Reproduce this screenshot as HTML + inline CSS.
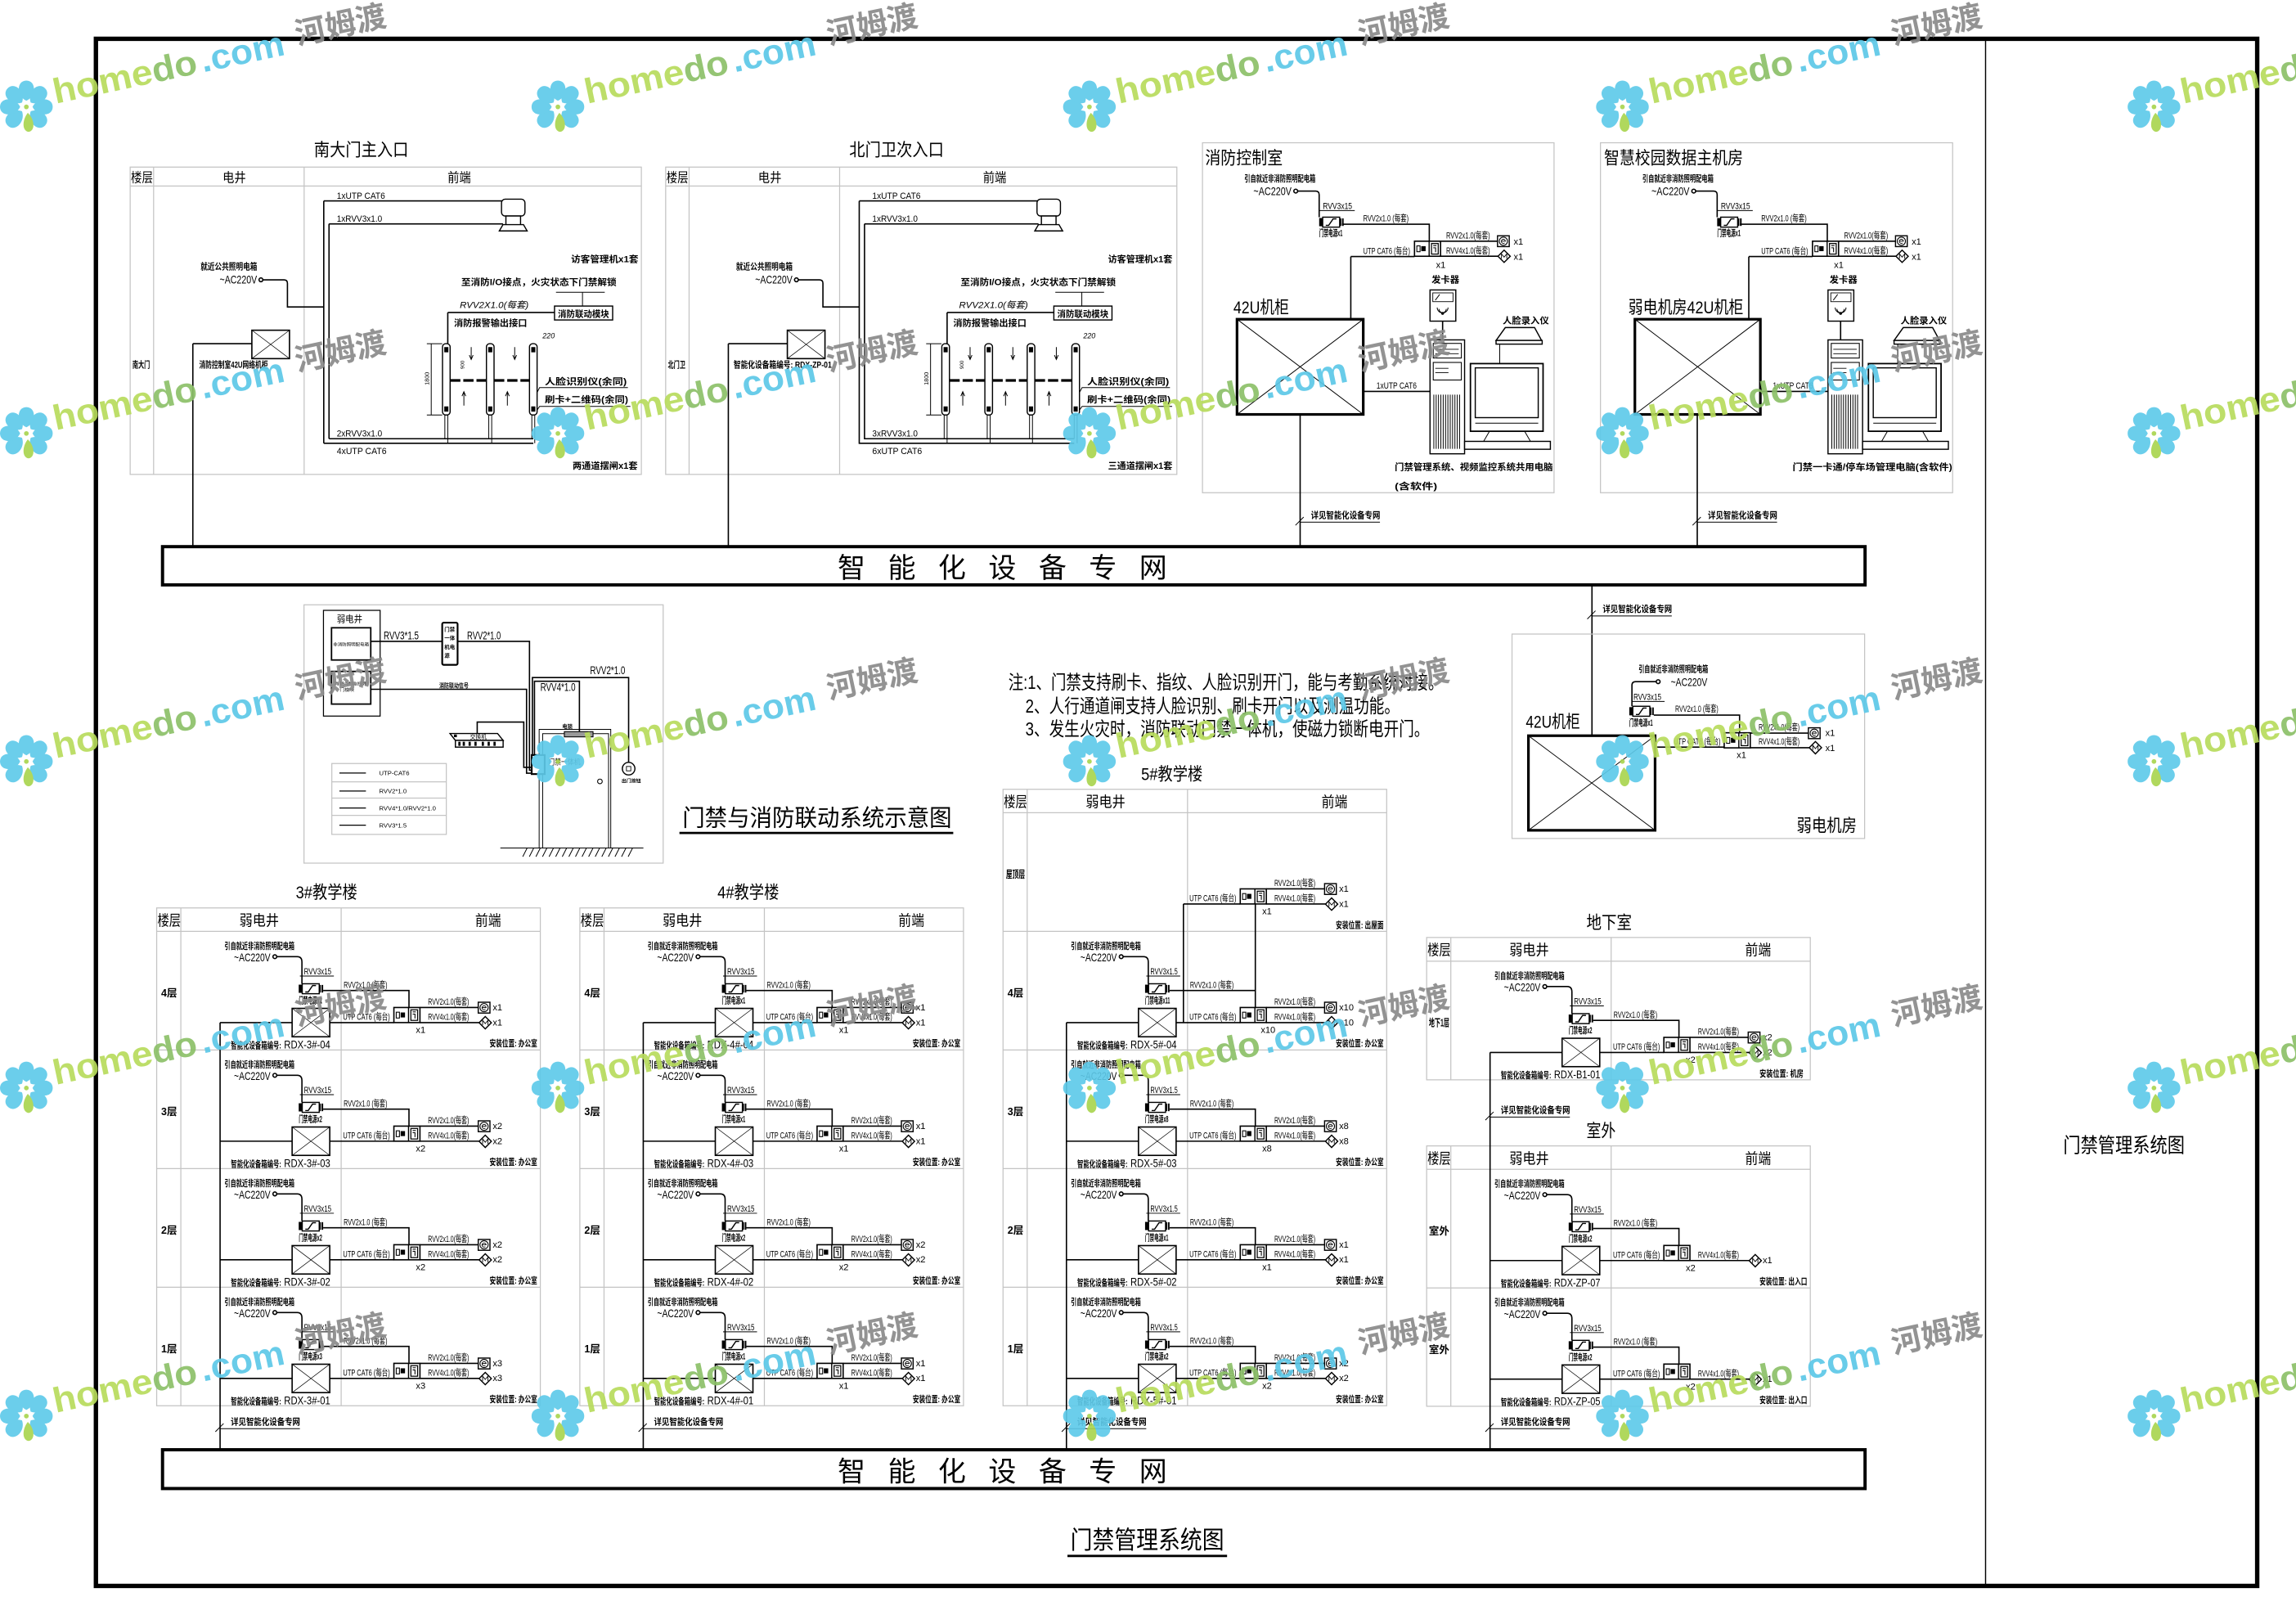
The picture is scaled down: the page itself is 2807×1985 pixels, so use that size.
<!DOCTYPE html>
<html><head><meta charset="utf-8">
<style>
html,body{margin:0;padding:0;background:#fff;overflow:hidden}
svg{display:block}
text{font-family:"Liberation Sans","Noto Sans CJK SC",sans-serif;fill:#000}
.w{stroke:#000;stroke-width:0.9;fill:none}
.t{stroke:#000;stroke-width:0.55;fill:none}
.g{stroke:#c4c4c4;stroke-width:0.7;fill:none}
.a{font-size:6px;font-weight:bold}
.n{font-size:6.2px}
.r{font-size:7.8px}
.fl{font-size:7px;font-weight:bold}
.h{font-size:10px}
.h9{font-size:9px}
.tt{font-size:12px}
.pw{fill:#fff;stroke:#000;stroke-width:0.8}
.wm1{font-size:24px;font-weight:bold;fill:#b8dc5c}
.wmd{font-size:24px;font-weight:bold;fill:#8cc068}
.wm2{font-size:24px;font-weight:bold;fill:#5cc8e8}
.wm3{font-size:21px;font-weight:bold;fill:#8a8a8a}
</style></head>
<body>
<svg width="2807" height="1985" viewBox="0 0 1568 1109" preserveAspectRatio="none" xmlns="http://www.w3.org/2000/svg">
<defs>
<g id="psu">
<rect x="0" y="0.6" width="2.4" height="5.6" fill="#000"/>
<rect x="2.4" y="0" width="11.6" height="6.8" fill="#fff" stroke="#000" stroke-width="0.8"/>
<path d="M4.5,5.6L6.5,5.6L9.5,1.2L11.8,1.2" stroke="#000" stroke-width="0.8" fill="none"/>
<rect x="14" y="0.8" width="1.1" height="5.2" fill="#000"/>
<rect x="15.6" y="0.8" width="1.1" height="5.2" fill="#000"/>
</g>
<g id="ctl">
<rect x="0" y="0" width="17.8" height="10.3" fill="#fff" stroke="#000" stroke-width="0.9"/>
<rect x="1.6" y="3.2" width="2.2" height="4" fill="none" stroke="#000" stroke-width="0.6"/>
<rect x="4.6" y="3.4" width="3" height="3.4" fill="#000"/>
<line x1="10" y1="0" x2="10" y2="10.3" stroke="#000" stroke-width="0.8"/>
<rect x="11.6" y="1.6" width="4.6" height="7.2" fill="none" stroke="#000" stroke-width="0.7"/>
<path d="M12.8,3H15M12.8,4.5H14.4V7.5" stroke="#000" stroke-width="0.6" fill="none"/>
</g>
<g id="btn">
<rect x="0" y="0" width="8" height="7.4" fill="#fff" stroke="#000" stroke-width="0.8"/>
<circle cx="4" cy="3.7" r="2.8" fill="none" stroke="#000" stroke-width="0.6"/>
<path d="M2.6,3.7H5.4A1.4,1.4 0 1 0 4.9,4.9" stroke="#000" stroke-width="0.5" fill="none"/>
</g>
<g id="lock">
<polygon points="-4.2,0 0,-4.2 4.2,0 0,4.2" fill="#fff" stroke="#000" stroke-width="0.8"/>
<path d="M-1.8,1.6V-1.6L0,0.6L1.8,-1.6V1.6" stroke="#000" stroke-width="0.5" fill="none"/>
</g>
<g id="cab">
<rect x="0" y="0" width="25.7" height="19.4" fill="#fff" stroke="#000" stroke-width="0.9"/>
<path d="M0,0L25.7,19.4M25.7,0L0,19.4" stroke="#000" stroke-width="0.4"/>
</g>
<path id="pt" d="M0,-4.2C-7,-7.5 -6.8,-18 0,-18C6.8,-18 7,-7.5 0,-4.2Z" fill="#5ecaea"/>
<g id="fl">
<use href="#pt"/>
<use href="#pt" transform="rotate(45)"/>
<use href="#pt" transform="rotate(90)"/>
<use href="#pt" transform="rotate(135)"/>
<use href="#pt" transform="rotate(225)"/>
<use href="#pt" transform="rotate(270)"/>
<use href="#pt" transform="rotate(315)"/>
<path d="M1,4C-3,9 -3,16.5 1.5,17C6,16.5 6,9 1,4Z" fill="#a9d54f"/>
<circle cx="0" cy="0" r="1.6" fill="#a9d54f"/>
</g>
</defs>

<rect x="0" y="0" width="1568" height="1109" fill="#fff"/>

<!-- Frame -->
<rect x="65.5" y="26.5" width="1476" height="1056.5" fill="none" stroke="#000" stroke-width="3"/>
<line x1="1356" y1="26.5" x2="1356" y2="1083" stroke="#000" stroke-width="0.8"/>
<text x="1409" y="787" font-size="14" textLength="83" lengthAdjust="spacingAndGlyphs">门禁管理系统图</text>

<!-- Top bar -->
<rect x="111" y="373.3" width="1162.7" height="26.1" fill="#fff" stroke="#000" stroke-width="2.2"/>
<text x="572" y="394.5" font-size="19" textLength="225" lengthAdjust="spacing">智能化设备专网</text>
<!-- Bottom bar -->
<rect x="111" y="990" width="1162.7" height="26.5" fill="#fff" stroke="#000" stroke-width="2.2"/>
<text x="572" y="1011.5" font-size="19" textLength="225" lengthAdjust="spacing">智能化设备专网</text>
<!-- bottom title -->
<text x="731" y="1057.5" font-size="17" textLength="105" lengthAdjust="spacingAndGlyphs">门禁管理系统图</text>
<path d="M729,1062.5H838" stroke="#000" stroke-width="1.6"/>

<!-- ===== 南大门主入口 ===== -->
<text class="tt" x="214.4" y="106.5" textLength="64.6" lengthAdjust="spacingAndGlyphs">南大门主入口</text>
<g>
<path class="g" d="M88.9,114.1H438V324H88.9Z M88.9,127H438 M104.9,114.1V324 M207.7,114.1V324"/>
<text class="h9" x="89.4" y="124.3" textLength="15" lengthAdjust="spacingAndGlyphs">楼层</text>
<text class="h9" x="152" y="124.3" textLength="16" lengthAdjust="spacingAndGlyphs">电井</text>
<text class="h9" x="305.6" y="124.3" textLength="16" lengthAdjust="spacingAndGlyphs">前端</text>
<path class="w" d="M221.1,137.2H343.5M224.7,152.9H343.5M221.1,137.2V302.7M224.7,152.9V299.6"/>
<rect x="342.5" y="136" width="16" height="11.5" rx="2.5" class="pw"/>
<rect x="345.5" y="147.5" width="10" height="6" class="pw"/>
<path d="M341,157.7L343.5,153.4H357.5L360,157.7Z" class="pw"/>
<text class="n" x="230" y="135.8" textLength="33" lengthAdjust="spacingAndGlyphs">1xUTP CAT6</text>
<text class="n" x="230" y="151.3" textLength="31" lengthAdjust="spacingAndGlyphs">1xRVV3x1.0</text>
<text class="a" x="137" y="184" textLength="38.6" lengthAdjust="spacingAndGlyphs">就近公共照明电箱</text>
<text class="r" x="150" y="193.6" textLength="25.5" lengthAdjust="spacingAndGlyphs">~AC220V</text>
<circle cx="178.2" cy="191.1" r="1.3" class="w"/>
<path class="w" d="M179.5,191.1H194Q196.3,191.1 196.3,193.5V209.6H221.1"/>
<use href="#cab" x="172" y="225.5"/>
<path class="w" d="M131.7,234.7H172M131.7,234.7V373.3"/>
<text class="a" x="390" y="179" textLength="46" lengthAdjust="spacingAndGlyphs">访客管理机x1套</text>
</g>
<path class="w" d="M221.1,302.7H364.2M224.7,299.6H364.2"/>
<text class="n" x="230" y="298" textLength="31" lengthAdjust="spacingAndGlyphs">2xRVV3x1.0</text>
<text class="n" x="230" y="310" textLength="34" lengthAdjust="spacingAndGlyphs">4xUTP CAT6</text>
<text class="a" x="391" y="320" textLength="44.5" lengthAdjust="spacingAndGlyphs">两通道摆闸x1套</text>
<text class="a" x="136" y="251" textLength="47" lengthAdjust="spacingAndGlyphs">消防控制室42U网络机柜</text>
<text class="a" x="90.4" y="251" textLength="12" lengthAdjust="spacingAndGlyphs">南大门</text>
<g>
<text class="a" x="315" y="194.6" textLength="106" lengthAdjust="spacingAndGlyphs">至消防I/O接点，火灾状态下门禁解锁</text>
<path class="t" d="M379.7,199.6H413M397.8,199.6V209"/>
<rect x="378.7" y="209" width="39.7" height="9.5" fill="none" stroke="#000" stroke-width="0.8"/>
<text class="a" x="381" y="216.6" textLength="35" lengthAdjust="spacingAndGlyphs">消防联动模块</text>
<text class="n" x="314" y="210.3" textLength="47" lengthAdjust="spacingAndGlyphs" font-style="italic">RVV2X1.0(每套)</text>
<path class="w" d="M305.8,213.4H378.7M305.8,213.4V234.7"/>
<text class="a" x="310" y="222.5" textLength="50" lengthAdjust="spacingAndGlyphs">消防报警输出接口</text>
<path class="t" d="M294.5,234.7V283.4M291.5,234.7H302M291.5,283.4H302"/>
<text x="0" y="0" font-size="4" transform="translate(293,263) rotate(-90)">1800</text>
<text x="0" y="0" font-size="3.5" transform="translate(317,252) rotate(-90)">900</text>
</g>
<rect x="302.2" y="234.7" width="5.2" height="48.7" rx="2.2" class="pw"/>
<rect x="332.2" y="234.7" width="5.2" height="48.7" rx="2.2" class="pw"/>
<rect x="361.6" y="234.7" width="5.2" height="48.7" rx="2.2" class="pw"/>
<path d="M303.4,237h2.8v3.6h-2.8zM303.4,277.5h2.8v3.6h-2.8zM333.4,237h2.8v3.6h-2.8zM333.4,277.5h2.8v3.6h-2.8zM362.8,237h2.8v3.6h-2.8zM362.8,277.5h2.8v3.6h-2.8z" fill="#000"/>
<path class="t" d="M303.8,283.4V299.6M305.8,283.4V302.7M333.8,283.4V299.6M335.8,283.4V302.7M363.2,283.4V299.6M365.2,283.4V302.7"/>
<path d="M307.4,259.8H332.2M337.4,259.8H361.6" stroke="#000" stroke-width="1.8" stroke-dasharray="7 2"/>
<path class="t" d="M316.8,277V268M315.5,270.5L316.8,267.5L318.1,270.5M321.8,237V245M320.5,242.5L321.8,245.5L323.1,242.5M346.5,277V268M345.2,270.5L346.5,267.5L347.8,270.5M351.5,237V245M350.2,242.5L351.5,245.5L352.8,242.5"/>
<text x="370.5" y="231" font-size="5" font-style="italic">220</text>
<text class="a" x="372" y="262.5" textLength="56" lengthAdjust="spacingAndGlyphs">人脸识别仪(余同)</text>
<text class="a" x="372" y="275" textLength="57" lengthAdjust="spacingAndGlyphs">刷卡+二维码(余同)</text>
<path class="t" d="M366.8,268L368.5,264.7H428.8M366.8,280L368.5,277.5H430.5"/>

<!-- ===== 北门卫次入口 ===== -->
<text class="tt" x="580" y="106.5" textLength="64.6" lengthAdjust="spacingAndGlyphs">北门卫次入口</text>
<g transform="translate(365.7,0)">
<path class="g" d="M88.9,114.1H438V324H88.9Z M88.9,127H438 M104.9,114.1V324 M207.7,114.1V324"/>
<text class="h9" x="89.4" y="124.3" textLength="15" lengthAdjust="spacingAndGlyphs">楼层</text>
<text class="h9" x="152" y="124.3" textLength="16" lengthAdjust="spacingAndGlyphs">电井</text>
<text class="h9" x="305.6" y="124.3" textLength="16" lengthAdjust="spacingAndGlyphs">前端</text>
<path class="w" d="M221.1,137.2H343.5M224.7,152.9H343.5M221.1,137.2V302.7H367.9M224.7,152.9V299.6H367.9"/>
<rect x="342.5" y="136" width="16" height="11.5" rx="2.5" class="pw"/>
<rect x="345.5" y="147.5" width="10" height="6" class="pw"/>
<path d="M341,157.7L343.5,153.4H357.5L360,157.7Z" class="pw"/>
<text class="n" x="230" y="135.8" textLength="33" lengthAdjust="spacingAndGlyphs">1xUTP CAT6</text>
<text class="n" x="230" y="151.3" textLength="31" lengthAdjust="spacingAndGlyphs">1xRVV3x1.0</text>
<text class="a" x="137" y="184" textLength="38.6" lengthAdjust="spacingAndGlyphs">就近公共照明电箱</text>
<text class="r" x="150" y="193.6" textLength="25.5" lengthAdjust="spacingAndGlyphs">~AC220V</text>
<circle cx="178.2" cy="191.1" r="1.3" class="w"/>
<path class="w" d="M179.5,191.1H194Q196.3,191.1 196.3,193.5V209.6H221.1"/>
<use href="#cab" x="172" y="225.5"/>
<path class="w" d="M131.7,234.7H172M131.7,234.7V373.3"/>
<text class="a" x="391" y="179" textLength="44" lengthAdjust="spacingAndGlyphs">访客管理机x1套</text>
<text class="n" x="230" y="298" textLength="31" lengthAdjust="spacingAndGlyphs">3xRVV3x1.0</text>
<text class="n" x="230" y="310" textLength="34" lengthAdjust="spacingAndGlyphs">6xUTP CAT6</text>
<text class="a" x="391" y="320" textLength="44" lengthAdjust="spacingAndGlyphs">三通道摆闸x1套</text>
<text class="a" x="135.3" y="251" textLength="67" lengthAdjust="spacingAndGlyphs">智能化设备箱编号: RDX-ZP-01</text>
<text class="a" x="90.4" y="251" textLength="12" lengthAdjust="spacingAndGlyphs">北门卫</text>
</g>
<g transform="translate(341,0)">
<text class="a" x="315" y="194.6" textLength="106" lengthAdjust="spacingAndGlyphs">至消防I/O接点，火灾状态下门禁解锁</text>
<path class="t" d="M379.7,199.6H413M397.8,199.6V209"/>
<rect x="378.7" y="209" width="39.7" height="9.5" fill="none" stroke="#000" stroke-width="0.8"/>
<text class="a" x="381" y="216.6" textLength="35" lengthAdjust="spacingAndGlyphs">消防联动模块</text>
<text class="n" x="314" y="210.3" textLength="47" lengthAdjust="spacingAndGlyphs" font-style="italic">RVV2X1.0(每套)</text>
<path class="w" d="M305.8,213.4H378.7M305.8,213.4V234.7"/>
<text class="a" x="310" y="222.5" textLength="50" lengthAdjust="spacingAndGlyphs">消防报警输出接口</text>
<path class="t" d="M294.5,234.7V283.4M291.5,234.7H302M291.5,283.4H302"/>
<text x="0" y="0" font-size="4" transform="translate(293,263) rotate(-90)">1800</text>
<text x="0" y="0" font-size="3.5" transform="translate(317,252) rotate(-90)">900</text>
<rect x="302.2" y="234.7" width="5.2" height="48.7" rx="2.2" class="pw"/>
<rect x="331.6" y="234.7" width="5.2" height="48.7" rx="2.2" class="pw"/>
<rect x="360.5" y="234.7" width="5.2" height="48.7" rx="2.2" class="pw"/>
<rect x="391" y="234.7" width="5.2" height="48.7" rx="2.2" class="pw"/>
<path d="M303.4,237h2.8v3.6h-2.8zM303.4,277.5h2.8v3.6h-2.8zM332.8,237h2.8v3.6h-2.8zM332.8,277.5h2.8v3.6h-2.8zM361.7,237h2.8v3.6h-2.8zM361.7,277.5h2.8v3.6h-2.8zM392.2,237h2.8v3.6h-2.8zM392.2,277.5h2.8v3.6h-2.8z" fill="#000"/>
<path class="t" d="M303.8,283.4V299.6M305.8,283.4V302.7M333.2,283.4V299.6M335.2,283.4V302.7M362.1,283.4V299.6M364.1,283.4V302.7M392.6,283.4V299.6M394.6,283.4V302.7"/>
<path d="M307.4,259.8H331.6M336.8,259.8H360.5M365.7,259.8H391" stroke="#000" stroke-width="1.8" stroke-dasharray="7 2"/>
<path class="t" d="M316.5,277V268M315.2,270.5L316.5,267.5L317.8,270.5M321.5,237V245M320.2,242.5L321.5,245.5L322.8,242.5M345.7,277V268M344.4,270.5L345.7,267.5L347,270.5M350.7,237V245M349.4,242.5L350.7,245.5L352,242.5M375.4,277V268M374.1,270.5L375.4,267.5L376.7,270.5M380.4,237V245M379.1,242.5L380.4,245.5L381.7,242.5"/>
<text x="398.8" y="231" font-size="5" font-style="italic">220</text>
<text class="a" x="401.4" y="262.5" textLength="56" lengthAdjust="spacingAndGlyphs">人脸识别仪(余同)</text>
<text class="a" x="401.4" y="275" textLength="57" lengthAdjust="spacingAndGlyphs">刷卡+二维码(余同)</text>
<path class="t" d="M396.2,268L398,264.7H458M396.2,280L398,277.5H459.5"/>
</g>

<!-- ===== 消防控制室 ===== -->
<g transform="translate(821.2,97.5)">
<path class="g" d="M0,0H240.1V239H0Z"/>
<text class="tt" x="1.8" y="14.5" textLength="53" lengthAdjust="spacingAndGlyphs">消防控制室</text>
<text class="a" x="28.6" y="26.5" textLength="48.6" lengthAdjust="spacingAndGlyphs">引自就近非消防照明配电箱</text>
<text class="r" x="34.8" y="35.8" textLength="26" lengthAdjust="spacingAndGlyphs">~AC220V</text>
<circle cx="63.7" cy="33" r="1.3" class="w"/>
<path class="w" d="M65,33H77.3Q79.7,33 79.7,35.5V50.8M95.2,55.6H154.9V67.2M101.3,77.7H144.8M101.3,77.7V120.5M162.6,67.2H201.5M162.6,77.5H201.8M109.8,169.8H155.4M164,121.8V134.6M66.7,185.5V275.8"/>
<text class="n" x="82.2" y="45.3" textLength="20" lengthAdjust="spacingAndGlyphs">RVV3x15</text>
<path class="t" d="M79.7,46.3H104"/>
<use href="#psu" x="79.7" y="50.8"/>
<text class="a" x="79.7" y="63.8" textLength="16" lengthAdjust="spacingAndGlyphs">门禁电源x1</text>
<text class="n" x="109.8" y="53.5" textLength="31" lengthAdjust="spacingAndGlyphs">RVV2x1.0 (每套)</text>
<use href="#ctl" x="144.8" y="67.2"/>
<text class="n" x="166.4" y="65.4" textLength="30" lengthAdjust="spacingAndGlyphs">RVV2x1.0(每套)</text>
<text class="n" x="166.4" y="75.8" textLength="30" lengthAdjust="spacingAndGlyphs">RVV4x1.0(每套)</text>
<use href="#btn" x="201.5" y="63.5"/>
<use href="#lock" x="206" y="77.5"/>
<text class="n" x="212.5" y="69.5">x1</text>
<text class="n" x="212.5" y="80">x1</text>
<text class="n" x="159.5" y="85.5">x1</text>
<text class="n" x="109.8" y="76" textLength="32" lengthAdjust="spacingAndGlyphs">UTP CAT6 (每台)</text>
<text class="a" x="156.4" y="95.5" font-size="7" textLength="19" lengthAdjust="spacingAndGlyphs">发卡器</text>
<rect x="155.4" y="100.5" width="17.6" height="21.3" class="pw"/>
<rect x="157.3" y="102.5" width="13.8" height="6" fill="none" stroke="#000" stroke-width="0.5"/>
<path class="t" d="M159,107.5L162,103.5M161.5,113.5a2.5,2.5 0 0 0 5,0M160.3,112.5a3.7,3.7 0 0 0 7.4,0"/>
<circle cx="164" cy="116.5" r="1" fill="#000"/>
<text class="tt" x="21.1" y="116.5" textLength="38" lengthAdjust="spacingAndGlyphs">42U机柜</text>
<rect x="23.6" y="120.5" width="86.2" height="65" fill="#fff" stroke="#000" stroke-width="1.8"/>
<path class="t" d="M23.6,120.5L109.8,185.5M109.8,120.5L23.6,185.5"/>
<text class="n" x="118.8" y="167.8" font-size="7" textLength="27.5" lengthAdjust="spacingAndGlyphs">1xUTP CAT6</text>
<rect x="155.4" y="134.6" width="23.6" height="77.8" class="pw"/>
<rect x="157.6" y="137" width="19.2" height="10" fill="none" stroke="#000" stroke-width="0.6"/>
<rect x="157.6" y="150" width="19.2" height="12" fill="none" stroke="#000" stroke-width="0.6"/>
<path d="M159,141H175M159,144H175M159,154H168M159,157H168" stroke="#000" stroke-width="0.5"/>
<path d="M158,172V209M159.6,172V209M161.2,172V209M162.8,172V209M164.4,172V209M166,172V209M167.6,172V209M169.2,172V209M170.8,172V209M172.4,172V209M174,172V209M175.6,172V209" stroke="#000" stroke-width="0.55"/>
<rect x="183" y="150.8" width="49.6" height="46.2" fill="#fff" stroke="#000" stroke-width="1"/>
<rect x="186.3" y="153.7" width="43" height="34" fill="none" stroke="#000" stroke-width="0.8"/>
<path class="t" d="M186.3,191.5H229.3M196,197L192,203.9M220,197L224,203.9"/>
<rect x="179" y="203.9" width="58.6" height="5.4" class="pw"/>
<path d="M206.8,126.2H226.8L231.6,135H200.5Z" class="pw"/>
<rect x="200.5" y="135" width="31.5" height="2.5" class="pw"/>
<path class="t" d="M203,137.5V150.8"/>
<text class="a" x="205" y="123.5" textLength="31.6" lengthAdjust="spacingAndGlyphs">人脸录入仪</text>
<text class="a" x="131.3" y="223.5" textLength="108" lengthAdjust="spacingAndGlyphs">门禁管理系统、视频监控系统共用电脑</text>
<text class="a" x="131.3" y="236.5" textLength="29" lengthAdjust="spacingAndGlyphs">(含软件)</text>
</g>

<!-- ===== 智慧校园数据主机房 ===== -->
<g transform="translate(1093,97.5)">
<path class="g" d="M0,0H240.5V239H0Z"/>
<text class="tt" x="2.4" y="14.5" textLength="95" lengthAdjust="spacingAndGlyphs">智慧校园数据主机房</text>
<text class="a" x="28.6" y="26.5" textLength="48.6" lengthAdjust="spacingAndGlyphs">引自就近非消防照明配电箱</text>
<text class="r" x="34.8" y="35.8" textLength="26" lengthAdjust="spacingAndGlyphs">~AC220V</text>
<circle cx="63.7" cy="33" r="1.3" class="w"/>
<path class="w" d="M65,33H77.3Q79.7,33 79.7,35.5V50.8M95.2,55.6H154.9V67.2M101.3,77.7H144.8M101.3,77.7V120.5M162.6,67.2H201.5M162.6,77.5H201.8M109.8,169.8H155.4M164,121.8V134.6M66.1,185.5V275.8"/>
<text class="n" x="82.2" y="45.3" textLength="20" lengthAdjust="spacingAndGlyphs">RVV3x15</text>
<path class="t" d="M79.7,46.3H104"/>
<use href="#psu" x="79.7" y="50.8"/>
<text class="a" x="79.7" y="63.8" textLength="16" lengthAdjust="spacingAndGlyphs">门禁电源x1</text>
<text class="n" x="109.8" y="53.5" textLength="31" lengthAdjust="spacingAndGlyphs">RVV2x1.0 (每套)</text>
<use href="#ctl" x="144.8" y="67.2"/>
<text class="n" x="166.4" y="65.4" textLength="30" lengthAdjust="spacingAndGlyphs">RVV2x1.0(每套)</text>
<text class="n" x="166.4" y="75.8" textLength="30" lengthAdjust="spacingAndGlyphs">RVV4x1.0(每套)</text>
<use href="#btn" x="201.5" y="63.5"/>
<use href="#lock" x="206" y="77.5"/>
<text class="n" x="212.5" y="69.5">x1</text>
<text class="n" x="212.5" y="80">x1</text>
<text class="n" x="159.5" y="85.5">x1</text>
<text class="n" x="109.8" y="76" textLength="32" lengthAdjust="spacingAndGlyphs">UTP CAT6 (每台)</text>
<text class="a" x="156.4" y="95.5" font-size="7" textLength="19" lengthAdjust="spacingAndGlyphs">发卡器</text>
<rect x="155.4" y="100.5" width="17.6" height="21.3" class="pw"/>
<rect x="157.3" y="102.5" width="13.8" height="6" fill="none" stroke="#000" stroke-width="0.5"/>
<path class="t" d="M159,107.5L162,103.5M161.5,113.5a2.5,2.5 0 0 0 5,0M160.3,112.5a3.7,3.7 0 0 0 7.4,0"/>
<circle cx="164" cy="116.5" r="1" fill="#000"/>
<text class="tt" x="19" y="116.5" textLength="78.6" lengthAdjust="spacingAndGlyphs">弱电机房42U机柜</text>
<rect x="23.5" y="120.5" width="85.7" height="65" fill="#fff" stroke="#000" stroke-width="1.8"/>
<path class="t" d="M23.5,120.5L109.2,185.5M109.2,120.5L23.5,185.5"/>
<text class="n" x="117.7" y="167.8" font-size="7" textLength="27.5" lengthAdjust="spacingAndGlyphs">1xUTP CAT6</text>
<rect x="155.4" y="134.6" width="23.6" height="77.8" class="pw"/>
<rect x="157.6" y="137" width="19.2" height="10" fill="none" stroke="#000" stroke-width="0.6"/>
<rect x="157.6" y="150" width="19.2" height="12" fill="none" stroke="#000" stroke-width="0.6"/>
<path d="M159,141H175M159,144H175M159,154H168M159,157H168" stroke="#000" stroke-width="0.5"/>
<path d="M158,172V209M159.6,172V209M161.2,172V209M162.8,172V209M164.4,172V209M166,172V209M167.6,172V209M169.2,172V209M170.8,172V209M172.4,172V209M174,172V209M175.6,172V209" stroke="#000" stroke-width="0.55"/>
<rect x="183" y="150.8" width="49.6" height="46.2" fill="#fff" stroke="#000" stroke-width="1"/>
<rect x="186.3" y="153.7" width="43" height="34" fill="none" stroke="#000" stroke-width="0.8"/>
<path class="t" d="M186.3,191.5H229.3M196,197L192,203.9M220,197L224,203.9"/>
<rect x="179" y="203.9" width="58.6" height="5.4" class="pw"/>
<path d="M206.8,126.2H226.8L231.6,135H200.5Z" class="pw"/>
<rect x="200.5" y="135" width="31.5" height="2.5" class="pw"/>
<path class="t" d="M203,137.5V150.8"/>
<text class="a" x="205" y="123.5" textLength="31.6" lengthAdjust="spacingAndGlyphs">人脸录入仪</text>
<text class="a" x="131.2" y="223.5" textLength="109" lengthAdjust="spacingAndGlyphs">门禁一卡通/停车场管理电脑(含软件)</text>
</g>

<!-- 详见 labels (top) -->
<text class="a" x="895.2" y="354" textLength="47.4" lengthAdjust="spacingAndGlyphs">详见智能化设备专网</text>
<path class="t" d="M887.9,356.6H942.4M884.7,358.7L890.3,353.1"/>
<text class="a" x="1166.4" y="354" textLength="47.4" lengthAdjust="spacingAndGlyphs">详见智能化设备专网</text>
<path class="t" d="M1159.1,356.6H1213.6M1155.9,358.7L1161.5,353.1"/>

<!-- ===== 门禁与消防联动系统示意图 ===== -->
<path class="g" d="M207.6,413H452.9V589.4H207.6Z"/>
<rect x="220.9" y="416.8" width="38.7" height="72.2" fill="none" stroke="#000" stroke-width="0.7"/>
<text x="230" y="424.8" font-size="6.5" fill="#444" textLength="17.5" lengthAdjust="spacingAndGlyphs">弱电井</text>
<rect x="226.4" y="428.7" width="26.8" height="22" fill="none" stroke="#000" stroke-width="1"/>
<text x="227.5" y="441" font-size="3" fill="#666" textLength="24.5" lengthAdjust="spacingAndGlyphs">非消防照明配电箱</text>
<rect x="226.4" y="458.5" width="26.8" height="22.3" fill="none" stroke="#000" stroke-width="1"/>
<text x="227.5" y="468" font-size="3" fill="#666" textLength="24.5" lengthAdjust="spacingAndGlyphs">消防联动控制</text>
<text x="232" y="472" font-size="3" fill="#666" textLength="10" lengthAdjust="spacingAndGlyphs">门模块</text>
<path class="w" d="M253.2,438H302M312.5,438H361.6V526H363.1M253.2,470.7H359.6V528H363.1M325.9,500.9V493.1H357.7V524H363.1M395.7,499.6V465.2H365V515.6M429.3,520.6V462.7H363.6V515.6"/>
<text x="262" y="436.6" font-size="7.8" textLength="24" lengthAdjust="spacingAndGlyphs">RVV3*1.5</text>
<text x="319" y="436.6" font-size="7.8" textLength="23" lengthAdjust="spacingAndGlyphs">RVV2*1.0</text>
<rect x="302" y="425.2" width="10.5" height="28.8" rx="1" fill="#fff" stroke="#000" stroke-width="1.2"/>
<text x="303.5" y="431" font-size="3.6" font-weight="bold">门禁</text>
<text x="303.5" y="437" font-size="3.6" font-weight="bold">一体</text>
<text x="303.5" y="443" font-size="3.6" font-weight="bold">机电</text>
<text x="303.5" y="449" font-size="3.6" font-weight="bold">源</text>
<text x="300" y="469.5" font-size="4" font-weight="bold" textLength="20" lengthAdjust="spacingAndGlyphs">消防联动信号</text>
<path d="M307.3,500.9H339.8L343.6,505.6H311Z" class="pw"/>
<rect x="311" y="505.6" width="32.6" height="4.6" class="pw"/>
<path d="M313,506.5h1.5v2.8h-1.5zM316,506.5h1.5v2.8h-1.5zM320,506.5h1.5v2.8h-1.5zM324,506.5h1.5v2.8h-1.5zM329,506.5h1.5v2.8h-1.5zM333,506.5h1.5v2.8h-1.5zM337,506.5h1.5v2.8h-1.5z" fill="#000"/>
<rect x="310" y="501.6" width="2" height="1.8" fill="#000"/>
<text x="321" y="504.6" font-size="3.8" fill="#444">交换机</text>
<path class="t" d="M368.2,579.1V498.1H417.1V579.1M370.6,579.1V501H415.6V579.1"/>
<rect x="385.4" y="499.6" width="19.6" height="3.6" fill="#999" stroke="#000" stroke-width="0.6"/>
<text x="384" y="497.2" font-size="3.5" font-weight="bold">电锁</text>
<text x="369" y="471.8" font-size="7.8" textLength="24" lengthAdjust="spacingAndGlyphs">RVV4*1.0</text>
<text x="403" y="460.5" font-size="7.8" textLength="24" lengthAdjust="spacingAndGlyphs">RVV2*1.0</text>
<circle cx="429.3" cy="524.9" r="4.3" class="pw"/>
<rect x="427.8" y="523.4" width="3" height="3" fill="none" stroke="#000" stroke-width="0.5"/>
<text x="424.5" y="534.5" font-size="3.3" font-weight="bold">出门按钮</text>
<rect x="363.1" y="515.6" width="8.9" height="13" fill="#fff" stroke="#000" stroke-width="1.2"/>
<text x="374.4" y="522" font-size="5" fill="#444" textLength="22" lengthAdjust="spacingAndGlyphs">门禁一体机</text>
<circle cx="409.7" cy="533.6" r="1.6" fill="none" stroke="#000" stroke-width="0.6"/>
<path class="t" d="M341.7,579.1H439.4M360,579.1L357,585M364.5,579.1L361.5,585M369,579.1L366,585M373.5,579.1L370.5,585M378,579.1L375,585M382.5,579.1L379.5,585M387,579.1L384,585M391.5,579.1L388.5,585M396,579.1L393,585M400.5,579.1L397.5,585M405,579.1L402,585M409.5,579.1L406.5,585M414,579.1L411,585M418.5,579.1L415.5,585M423,579.1L420,585M427.5,579.1L424.5,585M432,579.1L429,585"/>
<path class="g" d="M226.6,521.4H304.8V569.8H226.6ZM226.6,533.9H304.8M226.6,545H304.8M226.6,556.8H304.8"/>
<path d="M231.8,527.9H249.9M231.8,540.2H249.9M231.8,551.8H249.9M231.8,563.5H249.9" stroke="#000" stroke-width="0.7"/>
<text x="258.9" y="529.4" font-size="4.3" fill="#555">UTP-CAT6</text>
<text x="258.9" y="541.7" font-size="4.3" fill="#555">RVV2*1.0</text>
<text x="258.9" y="553.3" font-size="4.3" fill="#555">RVV4*1.0/RVV2*1.0</text>
<text x="258.9" y="565" font-size="4.3" fill="#555">RVV3*1.5</text>
<text x="466" y="564" font-size="16" textLength="184" lengthAdjust="spacingAndGlyphs">门禁与消防联动系统示意图</text>
<path d="M464,568.8H651" stroke="#000" stroke-width="1.5"/>

<!-- Notes -->
<text x="688.6" y="470.5" font-size="13" textLength="297" lengthAdjust="spacingAndGlyphs">注:1、门禁支持刷卡、指纹、人脸识别开门，能与考勤系统对接。</text>
<text x="700.3" y="486.5" font-size="13" textLength="255.5" lengthAdjust="spacingAndGlyphs">2、人行通道闸支持人脸识别、刷卡开门以及测温功能。</text>
<text x="700.3" y="502.3" font-size="13" textLength="275.8" lengthAdjust="spacingAndGlyphs">3、发生火灾时，消防联动门禁一体机，使磁力锁断电开门。</text>

<!-- ===== 弱电机房 ===== -->
<path class="w" d="M1087.2,399.4V502.4"/>
<text class="a" x="1094.5" y="418" textLength="47.4" lengthAdjust="spacingAndGlyphs">详见智能化设备专网</text>
<path class="t" d="M1087.2,420.6H1141.7M1084,422.7L1089.6,417.1"/>
<path class="g" d="M1032.6,433H1273.4V572.6H1032.6Z"/>
<rect x="1043.8" y="502.4" width="86.5" height="64.6" fill="#fff" stroke="#000" stroke-width="1.8"/>
<path class="t" d="M1043.8,502.4L1130.3,567M1130.3,502.4L1043.8,567"/>
<text class="tt" x="1042" y="497" textLength="37" lengthAdjust="spacingAndGlyphs">42U机柜</text>
<text class="tt" x="1227" y="568" textLength="41" lengthAdjust="spacingAndGlyphs">弱电机房</text>
<text class="a" x="1119" y="459" textLength="47.5" lengthAdjust="spacingAndGlyphs">引自就近非消防照明配电箱</text>
<circle cx="1132.4" cy="465.5" r="1.3" class="w"/>
<text class="r" x="1141" y="468.6" textLength="25" lengthAdjust="spacingAndGlyphs">~AC220V</text>
<path class="w" d="M1131.1,465.5H1117Q1114.5,465.5 1114.5,468V482.3M1129.4,488.3H1188V500.6M1130.3,510.2H1177.5M1195.3,500.6H1235M1195.3,510.6H1235.6"/>
<text class="n" x="1115.5" y="478" textLength="19" lengthAdjust="spacingAndGlyphs">RVV3x15</text>
<path class="t" d="M1114.5,479H1136.8"/>
<use href="#psu" x="1112.7" y="482.3"/>
<text class="a" x="1112.7" y="495.5" textLength="16" lengthAdjust="spacingAndGlyphs">门禁电源x1</text>
<text class="n" x="1144" y="486" textLength="29.5" lengthAdjust="spacingAndGlyphs">RVV2x1.0 (每套)</text>
<text class="n" x="1143" y="508.5" textLength="32" lengthAdjust="spacingAndGlyphs">UTP CAT6 (每台)</text>
<use href="#ctl" x="1177.5" y="500.4"/>
<text class="n" x="1186" y="517.5">x1</text>
<text class="n" x="1201" y="498.5" textLength="28" lengthAdjust="spacingAndGlyphs">RVV2x1.0(每套)</text>
<text class="n" x="1201" y="508.5" textLength="28" lengthAdjust="spacingAndGlyphs">RVV4x1.0(每套)</text>
<use href="#btn" x="1235" y="497"/>
<use href="#lock" x="1239.8" y="510.6"/>
<text class="n" x="1246.6" y="502.5">x1</text>
<text class="n" x="1246.6" y="513">x1</text>

<!-- ===== Building tables ===== -->
<text class="tt" x="202" y="613.5" font-size="11.5" textLength="42" lengthAdjust="spacingAndGlyphs">3#教学楼</text>
<g transform="translate(107,620)">
<path class="g" d="M0,0H262V340H0ZM0,16H262M0,97H262M0,178H262M0,259H262M16.5,0V340M126,0V340"/>
<text class="h" x="0.5" y="12.2" textLength="16" lengthAdjust="spacingAndGlyphs">楼层</text>
<text class="h" x="56.5" y="12.2" textLength="27" lengthAdjust="spacingAndGlyphs">弱电井</text>
<text class="h" x="217.5" y="12.2" textLength="17.7" lengthAdjust="spacingAndGlyphs">前端</text>
</g>
<text class="tt" x="490" y="613.5" font-size="11.5" textLength="42" lengthAdjust="spacingAndGlyphs">4#教学楼</text>
<g transform="translate(396,620)">
<path class="g" d="M0,0H262V340H0ZM0,16H262M0,97H262M0,178H262M0,259H262M16.5,0V340M126,0V340"/>
<text class="h" x="0.5" y="12.2" textLength="16" lengthAdjust="spacingAndGlyphs">楼层</text>
<text class="h" x="56.5" y="12.2" textLength="27" lengthAdjust="spacingAndGlyphs">弱电井</text>
<text class="h" x="217.5" y="12.2" textLength="17.7" lengthAdjust="spacingAndGlyphs">前端</text>
</g>
<text class="tt" x="779.3" y="532.6" font-size="11.5" textLength="42" lengthAdjust="spacingAndGlyphs">5#教学楼</text>
<g transform="translate(685,539)">
<path class="g" d="M0,0H262V421H0ZM0,16H262M0,97H262M0,178H262M0,259H262M0,340H262M16.5,0V421M126,0V421"/>
<text class="h" x="0.5" y="12.2" textLength="16" lengthAdjust="spacingAndGlyphs">楼层</text>
<text class="h" x="56.5" y="12.2" textLength="27" lengthAdjust="spacingAndGlyphs">弱电井</text>
<text class="h" x="217.5" y="12.2" textLength="17.7" lengthAdjust="spacingAndGlyphs">前端</text>
</g>
<text class="tt" x="1083.4" y="634" textLength="31" lengthAdjust="spacingAndGlyphs">地下室</text>
<g transform="translate(974.3,640.2)">
<path class="g" d="M0,0H262V97.2H0ZM0,16.2H262M16.5,0V97.2M126,0V97.2"/>
<text class="h" x="0.5" y="12.2" textLength="16" lengthAdjust="spacingAndGlyphs">楼层</text>
<text class="h" x="56.5" y="12.2" textLength="27" lengthAdjust="spacingAndGlyphs">弱电井</text>
<text class="h" x="217.5" y="12.2" textLength="17.7" lengthAdjust="spacingAndGlyphs">前端</text>
</g>
<text class="tt" x="1083.4" y="776.2" textLength="20" lengthAdjust="spacingAndGlyphs">室外</text>
<g transform="translate(974.3,782.5)">
<path class="g" d="M0,0H262V177.8H0ZM0,16H262M0,97H262M16.5,0V177.8M126,0V177.8"/>
<text class="h" x="0.5" y="12.2" textLength="16" lengthAdjust="spacingAndGlyphs">楼层</text>
<text class="h" x="56.5" y="12.2" textLength="27" lengthAdjust="spacingAndGlyphs">弱电井</text>
<text class="h" x="217.5" y="12.2" textLength="17.7" lengthAdjust="spacingAndGlyphs">前端</text>
</g>

<!-- Trunks -->
<path class="w" d="M150.3,698.3V990M439.3,698.3V990M728.3,698.3V990M1017.6,718.7V990M808.2,617.3V698.3M857.3,617.3V676.4"/>
<text class="a" x="157.6" y="973" textLength="47.4" lengthAdjust="spacingAndGlyphs">详见智能化设备专网</text>
<path class="t" d="M150.3,975.6H204.8M147.1,977.7L152.7,972.1"/>
<text class="a" x="446.6" y="973" textLength="47.4" lengthAdjust="spacingAndGlyphs">详见智能化设备专网</text>
<path class="t" d="M439.3,975.6H493.8M436.1,977.7L441.7,972.1"/>
<text class="a" x="735.6" y="973" textLength="47.4" lengthAdjust="spacingAndGlyphs">详见智能化设备专网</text>
<path class="t" d="M728.3,975.6H782.8M725.1,977.7L730.7,972.1"/>
<text class="a" x="1024.9" y="973" textLength="47.4" lengthAdjust="spacingAndGlyphs">详见智能化设备专网</text>
<path class="t" d="M1017.6,975.6H1072.1M1014.4,977.7L1020,972.1"/>
<text class="a" x="1024.9" y="760.2" textLength="47.4" lengthAdjust="spacingAndGlyphs">详见智能化设备专网</text>
<path class="t" d="M1017.6,762.8H1072.1M1014.4,764.9L1020,759.3"/>

<!-- ===== CELLS ===== -->
<g transform="translate(107,636)">
<text class="fl" x="8.5" y="44.6" text-anchor="middle">4层</text>
<text class="a" x="46.3" y="12" textLength="47.8" lengthAdjust="spacingAndGlyphs">引自就近非消防照明配电箱</text>
<text class="r" x="52.8" y="20.6" textLength="24.9" lengthAdjust="spacingAndGlyphs">~AC220V</text>
<circle cx="80.7" cy="17.3" r="1.3" class="w"/>
<path class="w" d="M82,17.3H96Q99.2,17.3 99.2,21V35.8M113.7,40.4H172.3V52M43.3,62.3H92.5M118.2,62.3H162M179.8,52H219.6M179.8,62.3H220.2"/>
<text class="n" x="100.6" y="29.4" textLength="18.7" lengthAdjust="spacingAndGlyphs">RVV3x15</text>
<path class="t" d="M97.8,30.5H121"/>
<use href="#psu" x="97" y="35.8"/>
<text class="a" x="97" y="49.3" textLength="16" lengthAdjust="spacingAndGlyphs">门禁电源x1</text>
<text class="n" x="127.7" y="38.7" textLength="29.8" lengthAdjust="spacingAndGlyphs">RVV2x1.0 (每套)</text>
<use href="#cab" x="92.5" y="52.6"/>
<text class="n" x="127.3" y="60.5" textLength="32" lengthAdjust="spacingAndGlyphs">UTP CAT6 (每台)</text>
<use href="#ctl" x="162" y="52"/>
<text class="n" x="177" y="69.4">x1</text>
<text class="n" x="185.3" y="50.2" textLength="28" lengthAdjust="spacingAndGlyphs">RVV2x1.0(每套)</text>
<text class="n" x="185.3" y="60.5" textLength="28" lengthAdjust="spacingAndGlyphs">RVV4x1.0(每套)</text>
<use href="#btn" x="219.6" y="48.4"/>
<use href="#lock" x="224.4" y="62.4"/>
<text class="n" x="229.5" y="54">x1</text>
<text class="n" x="229.5" y="64.2">x1</text>
<text class="a" x="227.3" y="78.7" textLength="32.6" lengthAdjust="spacingAndGlyphs">安装位置: 办公室</text>
<text class="a" x="50.7" y="80" textLength="34.4" lengthAdjust="spacingAndGlyphs">智能化设备箱编号:</text>
<text class="r" x="87" y="80" textLength="31.6" lengthAdjust="spacingAndGlyphs">RDX-3#-04</text>
</g>
<g transform="translate(107,717)">
<text class="fl" x="8.5" y="44.6" text-anchor="middle">3层</text>
<text class="a" x="46.3" y="12" textLength="47.8" lengthAdjust="spacingAndGlyphs">引自就近非消防照明配电箱</text>
<text class="r" x="52.8" y="20.6" textLength="24.9" lengthAdjust="spacingAndGlyphs">~AC220V</text>
<circle cx="80.7" cy="17.3" r="1.3" class="w"/>
<path class="w" d="M82,17.3H96Q99.2,17.3 99.2,21V35.8M113.7,40.4H172.3V52M43.3,62.3H92.5M118.2,62.3H162M179.8,52H219.6M179.8,62.3H220.2"/>
<text class="n" x="100.6" y="29.4" textLength="18.7" lengthAdjust="spacingAndGlyphs">RVV3x15</text>
<path class="t" d="M97.8,30.5H121"/>
<use href="#psu" x="97" y="35.8"/>
<text class="a" x="97" y="49.3" textLength="16" lengthAdjust="spacingAndGlyphs">门禁电源x2</text>
<text class="n" x="127.7" y="38.7" textLength="29.8" lengthAdjust="spacingAndGlyphs">RVV2x1.0 (每套)</text>
<use href="#cab" x="92.5" y="52.6"/>
<text class="n" x="127.3" y="60.5" textLength="32" lengthAdjust="spacingAndGlyphs">UTP CAT6 (每台)</text>
<use href="#ctl" x="162" y="52"/>
<text class="n" x="177" y="69.4">x2</text>
<text class="n" x="185.3" y="50.2" textLength="28" lengthAdjust="spacingAndGlyphs">RVV2x1.0(每套)</text>
<text class="n" x="185.3" y="60.5" textLength="28" lengthAdjust="spacingAndGlyphs">RVV4x1.0(每套)</text>
<use href="#btn" x="219.6" y="48.4"/>
<use href="#lock" x="224.4" y="62.4"/>
<text class="n" x="229.5" y="54">x2</text>
<text class="n" x="229.5" y="64.2">x2</text>
<text class="a" x="227.3" y="78.7" textLength="32.6" lengthAdjust="spacingAndGlyphs">安装位置: 办公室</text>
<text class="a" x="50.7" y="80" textLength="34.4" lengthAdjust="spacingAndGlyphs">智能化设备箱编号:</text>
<text class="r" x="87" y="80" textLength="31.6" lengthAdjust="spacingAndGlyphs">RDX-3#-03</text>
</g>
<g transform="translate(107,798)">
<text class="fl" x="8.5" y="44.6" text-anchor="middle">2层</text>
<text class="a" x="46.3" y="12" textLength="47.8" lengthAdjust="spacingAndGlyphs">引自就近非消防照明配电箱</text>
<text class="r" x="52.8" y="20.6" textLength="24.9" lengthAdjust="spacingAndGlyphs">~AC220V</text>
<circle cx="80.7" cy="17.3" r="1.3" class="w"/>
<path class="w" d="M82,17.3H96Q99.2,17.3 99.2,21V35.8M113.7,40.4H172.3V52M43.3,62.3H92.5M118.2,62.3H162M179.8,52H219.6M179.8,62.3H220.2"/>
<text class="n" x="100.6" y="29.4" textLength="18.7" lengthAdjust="spacingAndGlyphs">RVV3x15</text>
<path class="t" d="M97.8,30.5H121"/>
<use href="#psu" x="97" y="35.8"/>
<text class="a" x="97" y="49.3" textLength="16" lengthAdjust="spacingAndGlyphs">门禁电源x2</text>
<text class="n" x="127.7" y="38.7" textLength="29.8" lengthAdjust="spacingAndGlyphs">RVV2x1.0 (每套)</text>
<use href="#cab" x="92.5" y="52.6"/>
<text class="n" x="127.3" y="60.5" textLength="32" lengthAdjust="spacingAndGlyphs">UTP CAT6 (每台)</text>
<use href="#ctl" x="162" y="52"/>
<text class="n" x="177" y="69.4">x2</text>
<text class="n" x="185.3" y="50.2" textLength="28" lengthAdjust="spacingAndGlyphs">RVV2x1.0(每套)</text>
<text class="n" x="185.3" y="60.5" textLength="28" lengthAdjust="spacingAndGlyphs">RVV4x1.0(每套)</text>
<use href="#btn" x="219.6" y="48.4"/>
<use href="#lock" x="224.4" y="62.4"/>
<text class="n" x="229.5" y="54">x2</text>
<text class="n" x="229.5" y="64.2">x2</text>
<text class="a" x="227.3" y="78.7" textLength="32.6" lengthAdjust="spacingAndGlyphs">安装位置: 办公室</text>
<text class="a" x="50.7" y="80" textLength="34.4" lengthAdjust="spacingAndGlyphs">智能化设备箱编号:</text>
<text class="r" x="87" y="80" textLength="31.6" lengthAdjust="spacingAndGlyphs">RDX-3#-02</text>
</g>
<g transform="translate(107,879)">
<text class="fl" x="8.5" y="44.6" text-anchor="middle">1层</text>
<text class="a" x="46.3" y="12" textLength="47.8" lengthAdjust="spacingAndGlyphs">引自就近非消防照明配电箱</text>
<text class="r" x="52.8" y="20.6" textLength="24.9" lengthAdjust="spacingAndGlyphs">~AC220V</text>
<circle cx="80.7" cy="17.3" r="1.3" class="w"/>
<path class="w" d="M82,17.3H96Q99.2,17.3 99.2,21V35.8M113.7,40.4H172.3V52M43.3,62.3H92.5M118.2,62.3H162M179.8,52H219.6M179.8,62.3H220.2"/>
<text class="n" x="100.6" y="29.4" textLength="18.7" lengthAdjust="spacingAndGlyphs">RVV3x15</text>
<path class="t" d="M97.8,30.5H121"/>
<use href="#psu" x="97" y="35.8"/>
<text class="a" x="97" y="49.3" textLength="16" lengthAdjust="spacingAndGlyphs">门禁电源x3</text>
<text class="n" x="127.7" y="38.7" textLength="29.8" lengthAdjust="spacingAndGlyphs">RVV2x1.0 (每套)</text>
<use href="#cab" x="92.5" y="52.6"/>
<text class="n" x="127.3" y="60.5" textLength="32" lengthAdjust="spacingAndGlyphs">UTP CAT6 (每台)</text>
<use href="#ctl" x="162" y="52"/>
<text class="n" x="177" y="69.4">x3</text>
<text class="n" x="185.3" y="50.2" textLength="28" lengthAdjust="spacingAndGlyphs">RVV2x1.0(每套)</text>
<text class="n" x="185.3" y="60.5" textLength="28" lengthAdjust="spacingAndGlyphs">RVV4x1.0(每套)</text>
<use href="#btn" x="219.6" y="48.4"/>
<use href="#lock" x="224.4" y="62.4"/>
<text class="n" x="229.5" y="54">x3</text>
<text class="n" x="229.5" y="64.2">x3</text>
<text class="a" x="227.3" y="78.7" textLength="32.6" lengthAdjust="spacingAndGlyphs">安装位置: 办公室</text>
<text class="a" x="50.7" y="80" textLength="34.4" lengthAdjust="spacingAndGlyphs">智能化设备箱编号:</text>
<text class="r" x="87" y="80" textLength="31.6" lengthAdjust="spacingAndGlyphs">RDX-3#-01</text>
</g>

<g transform="translate(396,636)">
<text class="fl" x="8.5" y="44.6" text-anchor="middle">4层</text>
<text class="a" x="46.3" y="12" textLength="47.8" lengthAdjust="spacingAndGlyphs">引自就近非消防照明配电箱</text>
<text class="r" x="52.8" y="20.6" textLength="24.9" lengthAdjust="spacingAndGlyphs">~AC220V</text>
<circle cx="80.7" cy="17.3" r="1.3" class="w"/>
<path class="w" d="M82,17.3H96Q99.2,17.3 99.2,21V35.8M113.7,40.4H172.3V52M43.3,62.3H92.5M118.2,62.3H162M179.8,52H219.6M179.8,62.3H220.2"/>
<text class="n" x="100.6" y="29.4" textLength="18.7" lengthAdjust="spacingAndGlyphs">RVV3x15</text>
<path class="t" d="M97.8,30.5H121"/>
<use href="#psu" x="97" y="35.8"/>
<text class="a" x="97" y="49.3" textLength="16" lengthAdjust="spacingAndGlyphs">门禁电源x1</text>
<text class="n" x="127.7" y="38.7" textLength="29.8" lengthAdjust="spacingAndGlyphs">RVV2x1.0 (每套)</text>
<use href="#cab" x="92.5" y="52.6"/>
<text class="n" x="127.3" y="60.5" textLength="32" lengthAdjust="spacingAndGlyphs">UTP CAT6 (每台)</text>
<use href="#ctl" x="162" y="52"/>
<text class="n" x="177" y="69.4">x1</text>
<text class="n" x="185.3" y="50.2" textLength="28" lengthAdjust="spacingAndGlyphs">RVV2x1.0(每套)</text>
<text class="n" x="185.3" y="60.5" textLength="28" lengthAdjust="spacingAndGlyphs">RVV4x1.0(每套)</text>
<use href="#btn" x="219.6" y="48.4"/>
<use href="#lock" x="224.4" y="62.4"/>
<text class="n" x="229.5" y="54">x1</text>
<text class="n" x="229.5" y="64.2">x1</text>
<text class="a" x="227.3" y="78.7" textLength="32.6" lengthAdjust="spacingAndGlyphs">安装位置: 办公室</text>
<text class="a" x="50.7" y="80" textLength="34.4" lengthAdjust="spacingAndGlyphs">智能化设备箱编号:</text>
<text class="r" x="87" y="80" textLength="31.6" lengthAdjust="spacingAndGlyphs">RDX-4#-04</text>
</g>
<g transform="translate(396,717)">
<text class="fl" x="8.5" y="44.6" text-anchor="middle">3层</text>
<text class="a" x="46.3" y="12" textLength="47.8" lengthAdjust="spacingAndGlyphs">引自就近非消防照明配电箱</text>
<text class="r" x="52.8" y="20.6" textLength="24.9" lengthAdjust="spacingAndGlyphs">~AC220V</text>
<circle cx="80.7" cy="17.3" r="1.3" class="w"/>
<path class="w" d="M82,17.3H96Q99.2,17.3 99.2,21V35.8M113.7,40.4H172.3V52M43.3,62.3H92.5M118.2,62.3H162M179.8,52H219.6M179.8,62.3H220.2"/>
<text class="n" x="100.6" y="29.4" textLength="18.7" lengthAdjust="spacingAndGlyphs">RVV3x15</text>
<path class="t" d="M97.8,30.5H121"/>
<use href="#psu" x="97" y="35.8"/>
<text class="a" x="97" y="49.3" textLength="16" lengthAdjust="spacingAndGlyphs">门禁电源x1</text>
<text class="n" x="127.7" y="38.7" textLength="29.8" lengthAdjust="spacingAndGlyphs">RVV2x1.0 (每套)</text>
<use href="#cab" x="92.5" y="52.6"/>
<text class="n" x="127.3" y="60.5" textLength="32" lengthAdjust="spacingAndGlyphs">UTP CAT6 (每台)</text>
<use href="#ctl" x="162" y="52"/>
<text class="n" x="177" y="69.4">x1</text>
<text class="n" x="185.3" y="50.2" textLength="28" lengthAdjust="spacingAndGlyphs">RVV2x1.0(每套)</text>
<text class="n" x="185.3" y="60.5" textLength="28" lengthAdjust="spacingAndGlyphs">RVV4x1.0(每套)</text>
<use href="#btn" x="219.6" y="48.4"/>
<use href="#lock" x="224.4" y="62.4"/>
<text class="n" x="229.5" y="54">x1</text>
<text class="n" x="229.5" y="64.2">x1</text>
<text class="a" x="227.3" y="78.7" textLength="32.6" lengthAdjust="spacingAndGlyphs">安装位置: 办公室</text>
<text class="a" x="50.7" y="80" textLength="34.4" lengthAdjust="spacingAndGlyphs">智能化设备箱编号:</text>
<text class="r" x="87" y="80" textLength="31.6" lengthAdjust="spacingAndGlyphs">RDX-4#-03</text>
</g>
<g transform="translate(396,798)">
<text class="fl" x="8.5" y="44.6" text-anchor="middle">2层</text>
<text class="a" x="46.3" y="12" textLength="47.8" lengthAdjust="spacingAndGlyphs">引自就近非消防照明配电箱</text>
<text class="r" x="52.8" y="20.6" textLength="24.9" lengthAdjust="spacingAndGlyphs">~AC220V</text>
<circle cx="80.7" cy="17.3" r="1.3" class="w"/>
<path class="w" d="M82,17.3H96Q99.2,17.3 99.2,21V35.8M113.7,40.4H172.3V52M43.3,62.3H92.5M118.2,62.3H162M179.8,52H219.6M179.8,62.3H220.2"/>
<text class="n" x="100.6" y="29.4" textLength="18.7" lengthAdjust="spacingAndGlyphs">RVV3x15</text>
<path class="t" d="M97.8,30.5H121"/>
<use href="#psu" x="97" y="35.8"/>
<text class="a" x="97" y="49.3" textLength="16" lengthAdjust="spacingAndGlyphs">门禁电源x2</text>
<text class="n" x="127.7" y="38.7" textLength="29.8" lengthAdjust="spacingAndGlyphs">RVV2x1.0 (每套)</text>
<use href="#cab" x="92.5" y="52.6"/>
<text class="n" x="127.3" y="60.5" textLength="32" lengthAdjust="spacingAndGlyphs">UTP CAT6 (每台)</text>
<use href="#ctl" x="162" y="52"/>
<text class="n" x="177" y="69.4">x2</text>
<text class="n" x="185.3" y="50.2" textLength="28" lengthAdjust="spacingAndGlyphs">RVV2x1.0(每套)</text>
<text class="n" x="185.3" y="60.5" textLength="28" lengthAdjust="spacingAndGlyphs">RVV4x1.0(每套)</text>
<use href="#btn" x="219.6" y="48.4"/>
<use href="#lock" x="224.4" y="62.4"/>
<text class="n" x="229.5" y="54">x2</text>
<text class="n" x="229.5" y="64.2">x2</text>
<text class="a" x="227.3" y="78.7" textLength="32.6" lengthAdjust="spacingAndGlyphs">安装位置: 办公室</text>
<text class="a" x="50.7" y="80" textLength="34.4" lengthAdjust="spacingAndGlyphs">智能化设备箱编号:</text>
<text class="r" x="87" y="80" textLength="31.6" lengthAdjust="spacingAndGlyphs">RDX-4#-02</text>
</g>
<g transform="translate(396,879)">
<text class="fl" x="8.5" y="44.6" text-anchor="middle">1层</text>
<text class="a" x="46.3" y="12" textLength="47.8" lengthAdjust="spacingAndGlyphs">引自就近非消防照明配电箱</text>
<text class="r" x="52.8" y="20.6" textLength="24.9" lengthAdjust="spacingAndGlyphs">~AC220V</text>
<circle cx="80.7" cy="17.3" r="1.3" class="w"/>
<path class="w" d="M82,17.3H96Q99.2,17.3 99.2,21V35.8M113.7,40.4H172.3V52M43.3,62.3H92.5M118.2,62.3H162M179.8,52H219.6M179.8,62.3H220.2"/>
<text class="n" x="100.6" y="29.4" textLength="18.7" lengthAdjust="spacingAndGlyphs">RVV3x15</text>
<path class="t" d="M97.8,30.5H121"/>
<use href="#psu" x="97" y="35.8"/>
<text class="a" x="97" y="49.3" textLength="16" lengthAdjust="spacingAndGlyphs">门禁电源x1</text>
<text class="n" x="127.7" y="38.7" textLength="29.8" lengthAdjust="spacingAndGlyphs">RVV2x1.0 (每套)</text>
<use href="#cab" x="92.5" y="52.6"/>
<text class="n" x="127.3" y="60.5" textLength="32" lengthAdjust="spacingAndGlyphs">UTP CAT6 (每台)</text>
<use href="#ctl" x="162" y="52"/>
<text class="n" x="177" y="69.4">x1</text>
<text class="n" x="185.3" y="50.2" textLength="28" lengthAdjust="spacingAndGlyphs">RVV2x1.0(每套)</text>
<text class="n" x="185.3" y="60.5" textLength="28" lengthAdjust="spacingAndGlyphs">RVV4x1.0(每套)</text>
<use href="#btn" x="219.6" y="48.4"/>
<use href="#lock" x="224.4" y="62.4"/>
<text class="n" x="229.5" y="54">x1</text>
<text class="n" x="229.5" y="64.2">x1</text>
<text class="a" x="227.3" y="78.7" textLength="32.6" lengthAdjust="spacingAndGlyphs">安装位置: 办公室</text>
<text class="a" x="50.7" y="80" textLength="34.4" lengthAdjust="spacingAndGlyphs">智能化设备箱编号:</text>
<text class="r" x="87" y="80" textLength="31.6" lengthAdjust="spacingAndGlyphs">RDX-4#-01</text>
</g>

<g transform="translate(685,555)">
<text class="fl" x="8.5" y="44.6" text-anchor="middle" textLength="13" lengthAdjust="spacingAndGlyphs">屋顶层</text>
<path class="w" d="M123.2,62.3H162M179.8,52H219.6M179.8,62.3H220.2"/>
<text class="n" x="127.3" y="60.5" textLength="32" lengthAdjust="spacingAndGlyphs">UTP CAT6 (每台)</text>
<use href="#ctl" x="162" y="52"/>
<text class="n" x="177" y="69.4">x1</text>
<text class="n" x="185.3" y="50.2" textLength="28" lengthAdjust="spacingAndGlyphs">RVV2x1.0(每套)</text>
<text class="n" x="185.3" y="60.5" textLength="28" lengthAdjust="spacingAndGlyphs">RVV4x1.0(每套)</text>
<use href="#btn" x="219.6" y="48.4"/>
<use href="#lock" x="224.4" y="62.4"/>
<text class="n" x="229.5" y="54">x1</text>
<text class="n" x="229.5" y="64.2">x1</text>
<text class="a" x="227.3" y="78.7" textLength="32.6" lengthAdjust="spacingAndGlyphs">安装位置: 出屋面</text>
</g>
<g transform="translate(685,636)">
<text class="fl" x="8.5" y="44.6" text-anchor="middle">4层</text>
<text class="a" x="46.3" y="12" textLength="47.8" lengthAdjust="spacingAndGlyphs">引自就近非消防照明配电箱</text>
<text class="r" x="52.8" y="20.6" textLength="24.9" lengthAdjust="spacingAndGlyphs">~AC220V</text>
<circle cx="80.7" cy="17.3" r="1.3" class="w"/>
<path class="w" d="M82,17.3H96Q99.2,17.3 99.2,21V35.8M113.7,40.4H172.3V52M43.3,62.3H92.5M118.2,62.3H162M179.8,52H219.6M179.8,62.3H220.2"/>
<text class="n" x="100.6" y="29.4" textLength="18.7" lengthAdjust="spacingAndGlyphs">RVV3x1.5</text>
<path class="t" d="M97.8,30.5H121"/>
<use href="#psu" x="97" y="35.8"/>
<text class="a" x="97" y="49.3" textLength="17" lengthAdjust="spacingAndGlyphs">门禁电源x11</text>
<text class="n" x="127.7" y="38.7" textLength="29.8" lengthAdjust="spacingAndGlyphs">RVV2x1.0 (每套)</text>
<use href="#cab" x="92.5" y="52.6"/>
<text class="n" x="127.3" y="60.5" textLength="32" lengthAdjust="spacingAndGlyphs">UTP CAT6 (每台)</text>
<use href="#ctl" x="162" y="52"/>
<text class="n" x="176" y="69.4">x10</text>
<text class="n" x="185.3" y="50.2" textLength="28" lengthAdjust="spacingAndGlyphs">RVV2x1.0(每套)</text>
<text class="n" x="185.3" y="60.5" textLength="28" lengthAdjust="spacingAndGlyphs">RVV4x1.0(每套)</text>
<use href="#btn" x="219.6" y="48.4"/>
<use href="#lock" x="224.4" y="62.4"/>
<text class="n" x="229.5" y="54">x10</text>
<text class="n" x="229.5" y="64.2">x10</text>
<text class="a" x="227.3" y="78.7" textLength="32.6" lengthAdjust="spacingAndGlyphs">安装位置: 办公室</text>
<text class="a" x="50.7" y="80" textLength="34.4" lengthAdjust="spacingAndGlyphs">智能化设备箱编号:</text>
<text class="r" x="87" y="80" textLength="31.6" lengthAdjust="spacingAndGlyphs">RDX-5#-04</text>
</g>
<g transform="translate(685,717)">
<text class="fl" x="8.5" y="44.6" text-anchor="middle">3层</text>
<text class="a" x="46.3" y="12" textLength="47.8" lengthAdjust="spacingAndGlyphs">引自就近非消防照明配电箱</text>
<text class="r" x="52.8" y="20.6" textLength="24.9" lengthAdjust="spacingAndGlyphs">~AC220V</text>
<circle cx="80.7" cy="17.3" r="1.3" class="w"/>
<path class="w" d="M82,17.3H96Q99.2,17.3 99.2,21V35.8M113.7,40.4H172.3V52M43.3,62.3H92.5M118.2,62.3H162M179.8,52H219.6M179.8,62.3H220.2"/>
<text class="n" x="100.6" y="29.4" textLength="18.7" lengthAdjust="spacingAndGlyphs">RVV3x1.5</text>
<path class="t" d="M97.8,30.5H121"/>
<use href="#psu" x="97" y="35.8"/>
<text class="a" x="97" y="49.3" textLength="16" lengthAdjust="spacingAndGlyphs">门禁电源x8</text>
<text class="n" x="127.7" y="38.7" textLength="29.8" lengthAdjust="spacingAndGlyphs">RVV2x1.0 (每套)</text>
<use href="#cab" x="92.5" y="52.6"/>
<text class="n" x="127.3" y="60.5" textLength="32" lengthAdjust="spacingAndGlyphs">UTP CAT6 (每台)</text>
<use href="#ctl" x="162" y="52"/>
<text class="n" x="177" y="69.4">x8</text>
<text class="n" x="185.3" y="50.2" textLength="28" lengthAdjust="spacingAndGlyphs">RVV2x1.0(每套)</text>
<text class="n" x="185.3" y="60.5" textLength="28" lengthAdjust="spacingAndGlyphs">RVV4x1.0(每套)</text>
<use href="#btn" x="219.6" y="48.4"/>
<use href="#lock" x="224.4" y="62.4"/>
<text class="n" x="229.5" y="54">x8</text>
<text class="n" x="229.5" y="64.2">x8</text>
<text class="a" x="227.3" y="78.7" textLength="32.6" lengthAdjust="spacingAndGlyphs">安装位置: 办公室</text>
<text class="a" x="50.7" y="80" textLength="34.4" lengthAdjust="spacingAndGlyphs">智能化设备箱编号:</text>
<text class="r" x="87" y="80" textLength="31.6" lengthAdjust="spacingAndGlyphs">RDX-5#-03</text>
</g>
<g transform="translate(685,798)">
<text class="fl" x="8.5" y="44.6" text-anchor="middle">2层</text>
<text class="a" x="46.3" y="12" textLength="47.8" lengthAdjust="spacingAndGlyphs">引自就近非消防照明配电箱</text>
<text class="r" x="52.8" y="20.6" textLength="24.9" lengthAdjust="spacingAndGlyphs">~AC220V</text>
<circle cx="80.7" cy="17.3" r="1.3" class="w"/>
<path class="w" d="M82,17.3H96Q99.2,17.3 99.2,21V35.8M113.7,40.4H172.3V52M43.3,62.3H92.5M118.2,62.3H162M179.8,52H219.6M179.8,62.3H220.2"/>
<text class="n" x="100.6" y="29.4" textLength="18.7" lengthAdjust="spacingAndGlyphs">RVV3x1.5</text>
<path class="t" d="M97.8,30.5H121"/>
<use href="#psu" x="97" y="35.8"/>
<text class="a" x="97" y="49.3" textLength="16" lengthAdjust="spacingAndGlyphs">门禁电源x1</text>
<text class="n" x="127.7" y="38.7" textLength="29.8" lengthAdjust="spacingAndGlyphs">RVV2x1.0 (每套)</text>
<use href="#cab" x="92.5" y="52.6"/>
<text class="n" x="127.3" y="60.5" textLength="32" lengthAdjust="spacingAndGlyphs">UTP CAT6 (每台)</text>
<use href="#ctl" x="162" y="52"/>
<text class="n" x="177" y="69.4">x1</text>
<text class="n" x="185.3" y="50.2" textLength="28" lengthAdjust="spacingAndGlyphs">RVV2x1.0(每套)</text>
<text class="n" x="185.3" y="60.5" textLength="28" lengthAdjust="spacingAndGlyphs">RVV4x1.0(每套)</text>
<use href="#btn" x="219.6" y="48.4"/>
<use href="#lock" x="224.4" y="62.4"/>
<text class="n" x="229.5" y="54">x1</text>
<text class="n" x="229.5" y="64.2">x1</text>
<text class="a" x="227.3" y="78.7" textLength="32.6" lengthAdjust="spacingAndGlyphs">安装位置: 办公室</text>
<text class="a" x="50.7" y="80" textLength="34.4" lengthAdjust="spacingAndGlyphs">智能化设备箱编号:</text>
<text class="r" x="87" y="80" textLength="31.6" lengthAdjust="spacingAndGlyphs">RDX-5#-02</text>
</g>
<g transform="translate(685,879)">
<text class="fl" x="8.5" y="44.6" text-anchor="middle">1层</text>
<text class="a" x="46.3" y="12" textLength="47.8" lengthAdjust="spacingAndGlyphs">引自就近非消防照明配电箱</text>
<text class="r" x="52.8" y="20.6" textLength="24.9" lengthAdjust="spacingAndGlyphs">~AC220V</text>
<circle cx="80.7" cy="17.3" r="1.3" class="w"/>
<path class="w" d="M82,17.3H96Q99.2,17.3 99.2,21V35.8M113.7,40.4H172.3V52M43.3,62.3H92.5M118.2,62.3H162M179.8,52H219.6M179.8,62.3H220.2"/>
<text class="n" x="100.6" y="29.4" textLength="18.7" lengthAdjust="spacingAndGlyphs">RVV3x1.5</text>
<path class="t" d="M97.8,30.5H121"/>
<use href="#psu" x="97" y="35.8"/>
<text class="a" x="97" y="49.3" textLength="16" lengthAdjust="spacingAndGlyphs">门禁电源x2</text>
<text class="n" x="127.7" y="38.7" textLength="29.8" lengthAdjust="spacingAndGlyphs">RVV2x1.0 (每套)</text>
<use href="#cab" x="92.5" y="52.6"/>
<text class="n" x="127.3" y="60.5" textLength="32" lengthAdjust="spacingAndGlyphs">UTP CAT6 (每台)</text>
<use href="#ctl" x="162" y="52"/>
<text class="n" x="177" y="69.4">x2</text>
<text class="n" x="185.3" y="50.2" textLength="28" lengthAdjust="spacingAndGlyphs">RVV2x1.0(每套)</text>
<text class="n" x="185.3" y="60.5" textLength="28" lengthAdjust="spacingAndGlyphs">RVV4x1.0(每套)</text>
<use href="#btn" x="219.6" y="48.4"/>
<use href="#lock" x="224.4" y="62.4"/>
<text class="n" x="229.5" y="54">x2</text>
<text class="n" x="229.5" y="64.2">x2</text>
<text class="a" x="227.3" y="78.7" textLength="32.6" lengthAdjust="spacingAndGlyphs">安装位置: 办公室</text>
<text class="a" x="50.7" y="80" textLength="34.4" lengthAdjust="spacingAndGlyphs">智能化设备箱编号:</text>
<text class="r" x="87" y="80" textLength="31.6" lengthAdjust="spacingAndGlyphs">RDX-5#-01</text>
</g>

<g transform="translate(974.3,656.4)">
<text class="fl" x="8.5" y="44.6" text-anchor="middle" textLength="14" lengthAdjust="spacingAndGlyphs">地下1层</text>
<text class="a" x="46.3" y="12" textLength="47.8" lengthAdjust="spacingAndGlyphs">引自就近非消防照明配电箱</text>
<text class="r" x="52.8" y="20.6" textLength="24.9" lengthAdjust="spacingAndGlyphs">~AC220V</text>
<circle cx="80.7" cy="17.3" r="1.3" class="w"/>
<path class="w" d="M82,17.3H96Q99.2,17.3 99.2,21V35.8M113.7,40.4H172.3V52M43.3,62.3H92.5M118.2,62.3H162M179.8,52H219.6M179.8,62.3H220.2"/>
<text class="n" x="100.6" y="29.4" textLength="18.7" lengthAdjust="spacingAndGlyphs">RVV3x15</text>
<path class="t" d="M97.8,30.5H121"/>
<use href="#psu" x="97" y="35.8"/>
<text class="a" x="97" y="49.3" textLength="16" lengthAdjust="spacingAndGlyphs">门禁电源x2</text>
<text class="n" x="127.7" y="38.7" textLength="29.8" lengthAdjust="spacingAndGlyphs">RVV2x1.0 (每套)</text>
<use href="#cab" x="92.5" y="52.6"/>
<text class="n" x="127.3" y="60.5" textLength="32" lengthAdjust="spacingAndGlyphs">UTP CAT6 (每台)</text>
<use href="#ctl" x="162" y="52"/>
<text class="n" x="177" y="69.4">x2</text>
<text class="n" x="185.3" y="50.2" textLength="28" lengthAdjust="spacingAndGlyphs">RVV2x1.0(每套)</text>
<text class="n" x="185.3" y="60.5" textLength="28" lengthAdjust="spacingAndGlyphs">RVV4x1.0(每套)</text>
<use href="#btn" x="219.6" y="48.4"/>
<use href="#lock" x="224.4" y="62.4"/>
<text class="n" x="229.5" y="54">x2</text>
<text class="n" x="229.5" y="64.2">x2</text>
<text class="a" x="227.3" y="78.7" textLength="30" lengthAdjust="spacingAndGlyphs">安装位置: 机房</text>
<text class="a" x="50.7" y="80" textLength="34.4" lengthAdjust="spacingAndGlyphs">智能化设备箱编号:</text>
<text class="r" x="87" y="80" textLength="31.6" lengthAdjust="spacingAndGlyphs">RDX-B1-01</text>
</g>
<g transform="translate(974.3,798.5)">
<text class="fl" x="8.5" y="44.6" text-anchor="middle">室外</text>
<text class="a" x="46.3" y="12" textLength="47.8" lengthAdjust="spacingAndGlyphs">引自就近非消防照明配电箱</text>
<text class="r" x="52.8" y="20.6" textLength="24.9" lengthAdjust="spacingAndGlyphs">~AC220V</text>
<circle cx="80.7" cy="17.3" r="1.3" class="w"/>
<path class="w" d="M82,17.3H96Q99.2,17.3 99.2,21V35.8M113.7,40.4H172.3V52M43.3,62.3H92.5M118.2,62.3H162M179.8,62.3H220.2"/>
<text class="n" x="100.6" y="29.4" textLength="18.7" lengthAdjust="spacingAndGlyphs">RVV3x15</text>
<path class="t" d="M97.8,30.5H121"/>
<use href="#psu" x="97" y="35.8"/>
<text class="a" x="97" y="49.3" textLength="16" lengthAdjust="spacingAndGlyphs">门禁电源x2</text>
<text class="n" x="127.7" y="38.7" textLength="29.8" lengthAdjust="spacingAndGlyphs">RVV2x1.0 (每套)</text>
<use href="#cab" x="92.5" y="52.6"/>
<text class="n" x="127.3" y="60.5" textLength="32" lengthAdjust="spacingAndGlyphs">UTP CAT6 (每台)</text>
<use href="#ctl" x="162" y="52"/>
<text class="n" x="177" y="69.4">x2</text>
<text class="n" x="185.3" y="60.5" textLength="28" lengthAdjust="spacingAndGlyphs">RVV4x1.0(每套)</text>
<use href="#lock" x="224.4" y="62.4"/>
<text class="n" x="229.5" y="64.2">x1</text>
<text class="a" x="227.3" y="78.7" textLength="32.6" lengthAdjust="spacingAndGlyphs">安装位置: 出入口</text>
<text class="a" x="50.7" y="80" textLength="34.4" lengthAdjust="spacingAndGlyphs">智能化设备箱编号:</text>
<text class="r" x="87" y="80" textLength="31.6" lengthAdjust="spacingAndGlyphs">RDX-ZP-07</text>
</g>
<g transform="translate(974.3,879.5)">
<text class="fl" x="8.5" y="44.6" text-anchor="middle">室外</text>
<text class="a" x="46.3" y="12" textLength="47.8" lengthAdjust="spacingAndGlyphs">引自就近非消防照明配电箱</text>
<text class="r" x="52.8" y="20.6" textLength="24.9" lengthAdjust="spacingAndGlyphs">~AC220V</text>
<circle cx="80.7" cy="17.3" r="1.3" class="w"/>
<path class="w" d="M82,17.3H96Q99.2,17.3 99.2,21V35.8M113.7,40.4H172.3V52M43.3,62.3H92.5M118.2,62.3H162M179.8,62.3H220.2"/>
<text class="n" x="100.6" y="29.4" textLength="18.7" lengthAdjust="spacingAndGlyphs">RVV3x15</text>
<path class="t" d="M97.8,30.5H121"/>
<use href="#psu" x="97" y="35.8"/>
<text class="a" x="97" y="49.3" textLength="16" lengthAdjust="spacingAndGlyphs">门禁电源x2</text>
<text class="n" x="127.7" y="38.7" textLength="29.8" lengthAdjust="spacingAndGlyphs">RVV2x1.0 (每套)</text>
<use href="#cab" x="92.5" y="52.6"/>
<text class="n" x="127.3" y="60.5" textLength="32" lengthAdjust="spacingAndGlyphs">UTP CAT6 (每台)</text>
<use href="#ctl" x="162" y="52"/>
<text class="n" x="177" y="69.4">x2</text>
<text class="n" x="185.3" y="60.5" textLength="28" lengthAdjust="spacingAndGlyphs">RVV4x1.0(每套)</text>
<use href="#lock" x="224.4" y="62.4"/>
<text class="n" x="229.5" y="64.2">x1</text>
<text class="a" x="227.3" y="78.7" textLength="32.6" lengthAdjust="spacingAndGlyphs">安装位置: 出入口</text>
<text class="a" x="50.7" y="80" textLength="34.4" lengthAdjust="spacingAndGlyphs">智能化设备箱编号:</text>
<text class="r" x="87" y="80" textLength="31.6" lengthAdjust="spacingAndGlyphs">RDX-ZP-05</text>
</g>

<!-- ===== Watermarks ===== -->
<g opacity="0.92">
<use href="#fl" x="18" y="73"/><g transform="translate(18,73) rotate(-12)"><text class="wm1" x="20" y="2" textLength="69" lengthAdjust="spacingAndGlyphs">home</text><text class="wmd" x="89" y="2" textLength="31" lengthAdjust="spacingAndGlyphs">do</text><text class="wm2" x="123" y="2" textLength="58" lengthAdjust="spacingAndGlyphs">.com</text><text class="wm3" x="190" y="-3" textLength="63" lengthAdjust="spacingAndGlyphs">河姆渡</text></g>
<use href="#fl" x="381" y="73"/><g transform="translate(381,73) rotate(-12)"><text class="wm1" x="20" y="2" textLength="69" lengthAdjust="spacingAndGlyphs">home</text><text class="wmd" x="89" y="2" textLength="31" lengthAdjust="spacingAndGlyphs">do</text><text class="wm2" x="123" y="2" textLength="58" lengthAdjust="spacingAndGlyphs">.com</text><text class="wm3" x="190" y="-3" textLength="63" lengthAdjust="spacingAndGlyphs">河姆渡</text></g>
<use href="#fl" x="744" y="73"/><g transform="translate(744,73) rotate(-12)"><text class="wm1" x="20" y="2" textLength="69" lengthAdjust="spacingAndGlyphs">home</text><text class="wmd" x="89" y="2" textLength="31" lengthAdjust="spacingAndGlyphs">do</text><text class="wm2" x="123" y="2" textLength="58" lengthAdjust="spacingAndGlyphs">.com</text><text class="wm3" x="190" y="-3" textLength="63" lengthAdjust="spacingAndGlyphs">河姆渡</text></g>
<use href="#fl" x="1108" y="73"/><g transform="translate(1108,73) rotate(-12)"><text class="wm1" x="20" y="2" textLength="69" lengthAdjust="spacingAndGlyphs">home</text><text class="wmd" x="89" y="2" textLength="31" lengthAdjust="spacingAndGlyphs">do</text><text class="wm2" x="123" y="2" textLength="58" lengthAdjust="spacingAndGlyphs">.com</text><text class="wm3" x="190" y="-3" textLength="63" lengthAdjust="spacingAndGlyphs">河姆渡</text></g>
<use href="#fl" x="1471" y="73"/><g transform="translate(1471,73) rotate(-12)"><text class="wm1" x="20" y="2" textLength="69" lengthAdjust="spacingAndGlyphs">home</text><text class="wmd" x="89" y="2" textLength="31" lengthAdjust="spacingAndGlyphs">do</text><text class="wm2" x="123" y="2" textLength="58" lengthAdjust="spacingAndGlyphs">.com</text><text class="wm3" x="190" y="-3" textLength="63" lengthAdjust="spacingAndGlyphs">河姆渡</text></g>

<use href="#fl" x="18" y="296"/><g transform="translate(18,296) rotate(-12)"><text class="wm1" x="20" y="2" textLength="69" lengthAdjust="spacingAndGlyphs">home</text><text class="wmd" x="89" y="2" textLength="31" lengthAdjust="spacingAndGlyphs">do</text><text class="wm2" x="123" y="2" textLength="58" lengthAdjust="spacingAndGlyphs">.com</text><text class="wm3" x="190" y="-3" textLength="63" lengthAdjust="spacingAndGlyphs">河姆渡</text></g>
<use href="#fl" x="381" y="296"/><g transform="translate(381,296) rotate(-12)"><text class="wm1" x="20" y="2" textLength="69" lengthAdjust="spacingAndGlyphs">home</text><text class="wmd" x="89" y="2" textLength="31" lengthAdjust="spacingAndGlyphs">do</text><text class="wm2" x="123" y="2" textLength="58" lengthAdjust="spacingAndGlyphs">.com</text><text class="wm3" x="190" y="-3" textLength="63" lengthAdjust="spacingAndGlyphs">河姆渡</text></g>
<use href="#fl" x="744" y="296"/><g transform="translate(744,296) rotate(-12)"><text class="wm1" x="20" y="2" textLength="69" lengthAdjust="spacingAndGlyphs">home</text><text class="wmd" x="89" y="2" textLength="31" lengthAdjust="spacingAndGlyphs">do</text><text class="wm2" x="123" y="2" textLength="58" lengthAdjust="spacingAndGlyphs">.com</text><text class="wm3" x="190" y="-3" textLength="63" lengthAdjust="spacingAndGlyphs">河姆渡</text></g>
<use href="#fl" x="1108" y="296"/><g transform="translate(1108,296) rotate(-12)"><text class="wm1" x="20" y="2" textLength="69" lengthAdjust="spacingAndGlyphs">home</text><text class="wmd" x="89" y="2" textLength="31" lengthAdjust="spacingAndGlyphs">do</text><text class="wm2" x="123" y="2" textLength="58" lengthAdjust="spacingAndGlyphs">.com</text><text class="wm3" x="190" y="-3" textLength="63" lengthAdjust="spacingAndGlyphs">河姆渡</text></g>
<use href="#fl" x="1471" y="296"/><g transform="translate(1471,296) rotate(-12)"><text class="wm1" x="20" y="2" textLength="69" lengthAdjust="spacingAndGlyphs">home</text><text class="wmd" x="89" y="2" textLength="31" lengthAdjust="spacingAndGlyphs">do</text><text class="wm2" x="123" y="2" textLength="58" lengthAdjust="spacingAndGlyphs">.com</text><text class="wm3" x="190" y="-3" textLength="63" lengthAdjust="spacingAndGlyphs">河姆渡</text></g>

<use href="#fl" x="18" y="520"/><g transform="translate(18,520) rotate(-12)"><text class="wm1" x="20" y="2" textLength="69" lengthAdjust="spacingAndGlyphs">home</text><text class="wmd" x="89" y="2" textLength="31" lengthAdjust="spacingAndGlyphs">do</text><text class="wm2" x="123" y="2" textLength="58" lengthAdjust="spacingAndGlyphs">.com</text><text class="wm3" x="190" y="-3" textLength="63" lengthAdjust="spacingAndGlyphs">河姆渡</text></g>
<use href="#fl" x="381" y="520"/><g transform="translate(381,520) rotate(-12)"><text class="wm1" x="20" y="2" textLength="69" lengthAdjust="spacingAndGlyphs">home</text><text class="wmd" x="89" y="2" textLength="31" lengthAdjust="spacingAndGlyphs">do</text><text class="wm2" x="123" y="2" textLength="58" lengthAdjust="spacingAndGlyphs">.com</text><text class="wm3" x="190" y="-3" textLength="63" lengthAdjust="spacingAndGlyphs">河姆渡</text></g>
<use href="#fl" x="744" y="520"/><g transform="translate(744,520) rotate(-12)"><text class="wm1" x="20" y="2" textLength="69" lengthAdjust="spacingAndGlyphs">home</text><text class="wmd" x="89" y="2" textLength="31" lengthAdjust="spacingAndGlyphs">do</text><text class="wm2" x="123" y="2" textLength="58" lengthAdjust="spacingAndGlyphs">.com</text><text class="wm3" x="190" y="-3" textLength="63" lengthAdjust="spacingAndGlyphs">河姆渡</text></g>
<use href="#fl" x="1108" y="520"/><g transform="translate(1108,520) rotate(-12)"><text class="wm1" x="20" y="2" textLength="69" lengthAdjust="spacingAndGlyphs">home</text><text class="wmd" x="89" y="2" textLength="31" lengthAdjust="spacingAndGlyphs">do</text><text class="wm2" x="123" y="2" textLength="58" lengthAdjust="spacingAndGlyphs">.com</text><text class="wm3" x="190" y="-3" textLength="63" lengthAdjust="spacingAndGlyphs">河姆渡</text></g>
<use href="#fl" x="1471" y="520"/><g transform="translate(1471,520) rotate(-12)"><text class="wm1" x="20" y="2" textLength="69" lengthAdjust="spacingAndGlyphs">home</text><text class="wmd" x="89" y="2" textLength="31" lengthAdjust="spacingAndGlyphs">do</text><text class="wm2" x="123" y="2" textLength="58" lengthAdjust="spacingAndGlyphs">.com</text><text class="wm3" x="190" y="-3" textLength="63" lengthAdjust="spacingAndGlyphs">河姆渡</text></g>

<use href="#fl" x="18" y="743"/><g transform="translate(18,743) rotate(-12)"><text class="wm1" x="20" y="2" textLength="69" lengthAdjust="spacingAndGlyphs">home</text><text class="wmd" x="89" y="2" textLength="31" lengthAdjust="spacingAndGlyphs">do</text><text class="wm2" x="123" y="2" textLength="58" lengthAdjust="spacingAndGlyphs">.com</text><text class="wm3" x="190" y="-3" textLength="63" lengthAdjust="spacingAndGlyphs">河姆渡</text></g>
<use href="#fl" x="381" y="743"/><g transform="translate(381,743) rotate(-12)"><text class="wm1" x="20" y="2" textLength="69" lengthAdjust="spacingAndGlyphs">home</text><text class="wmd" x="89" y="2" textLength="31" lengthAdjust="spacingAndGlyphs">do</text><text class="wm2" x="123" y="2" textLength="58" lengthAdjust="spacingAndGlyphs">.com</text><text class="wm3" x="190" y="-3" textLength="63" lengthAdjust="spacingAndGlyphs">河姆渡</text></g>
<use href="#fl" x="744" y="743"/><g transform="translate(744,743) rotate(-12)"><text class="wm1" x="20" y="2" textLength="69" lengthAdjust="spacingAndGlyphs">home</text><text class="wmd" x="89" y="2" textLength="31" lengthAdjust="spacingAndGlyphs">do</text><text class="wm2" x="123" y="2" textLength="58" lengthAdjust="spacingAndGlyphs">.com</text><text class="wm3" x="190" y="-3" textLength="63" lengthAdjust="spacingAndGlyphs">河姆渡</text></g>
<use href="#fl" x="1108" y="743"/><g transform="translate(1108,743) rotate(-12)"><text class="wm1" x="20" y="2" textLength="69" lengthAdjust="spacingAndGlyphs">home</text><text class="wmd" x="89" y="2" textLength="31" lengthAdjust="spacingAndGlyphs">do</text><text class="wm2" x="123" y="2" textLength="58" lengthAdjust="spacingAndGlyphs">.com</text><text class="wm3" x="190" y="-3" textLength="63" lengthAdjust="spacingAndGlyphs">河姆渡</text></g>
<use href="#fl" x="1471" y="743"/><g transform="translate(1471,743) rotate(-12)"><text class="wm1" x="20" y="2" textLength="69" lengthAdjust="spacingAndGlyphs">home</text><text class="wmd" x="89" y="2" textLength="31" lengthAdjust="spacingAndGlyphs">do</text><text class="wm2" x="123" y="2" textLength="58" lengthAdjust="spacingAndGlyphs">.com</text><text class="wm3" x="190" y="-3" textLength="63" lengthAdjust="spacingAndGlyphs">河姆渡</text></g>

<use href="#fl" x="18" y="967"/><g transform="translate(18,967) rotate(-12)"><text class="wm1" x="20" y="2" textLength="69" lengthAdjust="spacingAndGlyphs">home</text><text class="wmd" x="89" y="2" textLength="31" lengthAdjust="spacingAndGlyphs">do</text><text class="wm2" x="123" y="2" textLength="58" lengthAdjust="spacingAndGlyphs">.com</text><text class="wm3" x="190" y="-3" textLength="63" lengthAdjust="spacingAndGlyphs">河姆渡</text></g>
<use href="#fl" x="381" y="967"/><g transform="translate(381,967) rotate(-12)"><text class="wm1" x="20" y="2" textLength="69" lengthAdjust="spacingAndGlyphs">home</text><text class="wmd" x="89" y="2" textLength="31" lengthAdjust="spacingAndGlyphs">do</text><text class="wm2" x="123" y="2" textLength="58" lengthAdjust="spacingAndGlyphs">.com</text><text class="wm3" x="190" y="-3" textLength="63" lengthAdjust="spacingAndGlyphs">河姆渡</text></g>
<use href="#fl" x="744" y="967"/><g transform="translate(744,967) rotate(-12)"><text class="wm1" x="20" y="2" textLength="69" lengthAdjust="spacingAndGlyphs">home</text><text class="wmd" x="89" y="2" textLength="31" lengthAdjust="spacingAndGlyphs">do</text><text class="wm2" x="123" y="2" textLength="58" lengthAdjust="spacingAndGlyphs">.com</text><text class="wm3" x="190" y="-3" textLength="63" lengthAdjust="spacingAndGlyphs">河姆渡</text></g>
<use href="#fl" x="1108" y="967"/><g transform="translate(1108,967) rotate(-12)"><text class="wm1" x="20" y="2" textLength="69" lengthAdjust="spacingAndGlyphs">home</text><text class="wmd" x="89" y="2" textLength="31" lengthAdjust="spacingAndGlyphs">do</text><text class="wm2" x="123" y="2" textLength="58" lengthAdjust="spacingAndGlyphs">.com</text><text class="wm3" x="190" y="-3" textLength="63" lengthAdjust="spacingAndGlyphs">河姆渡</text></g>
<use href="#fl" x="1471" y="967"/><g transform="translate(1471,967) rotate(-12)"><text class="wm1" x="20" y="2" textLength="69" lengthAdjust="spacingAndGlyphs">home</text><text class="wmd" x="89" y="2" textLength="31" lengthAdjust="spacingAndGlyphs">do</text><text class="wm2" x="123" y="2" textLength="58" lengthAdjust="spacingAndGlyphs">.com</text><text class="wm3" x="190" y="-3" textLength="63" lengthAdjust="spacingAndGlyphs">河姆渡</text></g>
</g>
</svg>
</body></html>
